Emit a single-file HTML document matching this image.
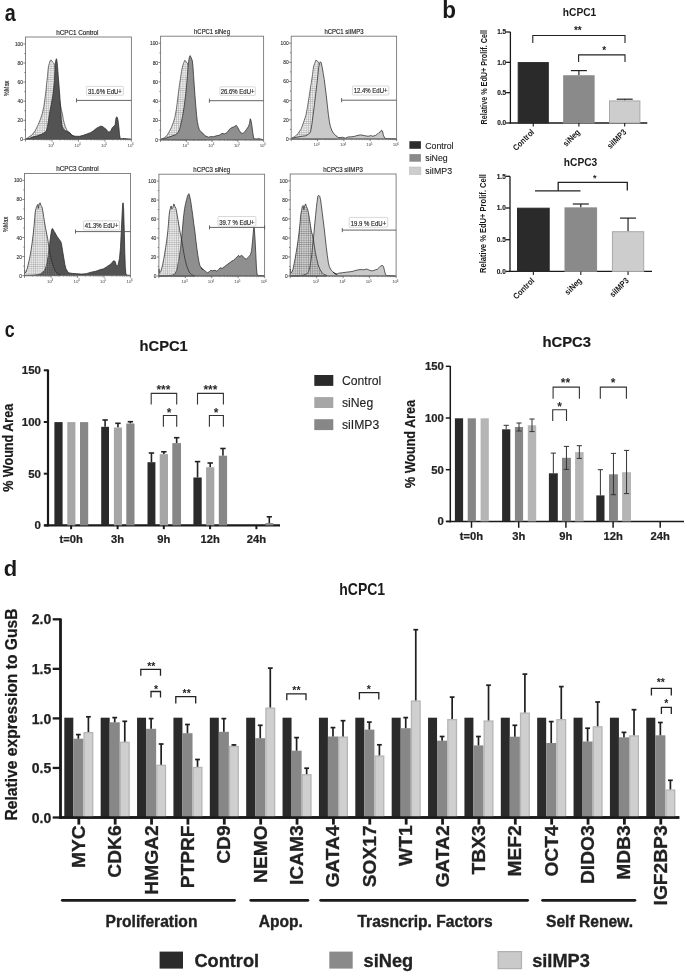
<!DOCTYPE html>
<html><head><meta charset="utf-8"><style>
html,body{margin:0;padding:0;background:#fff;}
body{width:685px;height:976px;overflow:hidden;}
svg{display:block;font-family:"Liberation Sans", sans-serif;filter:blur(0.35px);}
</style></head><body>
<svg width="685" height="976" viewBox="0 0 685 976">
<defs>
<pattern id="stip" width="2.2" height="2.2" patternUnits="userSpaceOnUse"><rect width="2.2" height="2.2" fill="#f0f0f0"/><rect width="0.5" height="2.2" fill="#a8a8a8"/><rect width="2.2" height="0.5" fill="#a8a8a8"/></pattern>
<pattern id="dots" width="2.2" height="2.2" patternUnits="userSpaceOnUse"><rect width="0.5" height="2.2" fill="#888" fill-opacity="0.6"/><rect width="2.2" height="0.5" fill="#888" fill-opacity="0.6"/></pattern>
<pattern id="dots2" width="2.2" height="2.2" patternUnits="userSpaceOnUse"><rect width="0.5" height="2.2" fill="#555" fill-opacity="0.6"/><rect width="2.2" height="0.5" fill="#555" fill-opacity="0.6"/></pattern>
</defs>
<text transform="translate(4.7 21.2) scale(0.86 1)" font-size="23" font-weight="bold" text-anchor="start" fill="#1a1a1a">a</text>
<text transform="translate(442.3 17.7) scale(0.97 1)" font-size="23.2" font-weight="bold" text-anchor="start" fill="#1a1a1a">b</text>
<text transform="translate(4.8 336.9) scale(0.81 1)" font-size="22" font-weight="bold" text-anchor="start" fill="#1a1a1a">c</text>
<text transform="translate(3.8 575.6) scale(0.96 1)" font-size="22.9" font-weight="bold" text-anchor="start" fill="#1a1a1a">d</text>
<path d="M26.23 138.9 L29.09 136.86 L32.15 134.82 L35.22 130.73 L37.77 125.62 L40.33 119.49 L42.37 113.36 L43.9 106.2 L44.93 99.05 L45.95 90.87 L46.66 83.72 L47.48 76.57 L47.99 70.44 L48.5 66.35 L49.32 63.28 L50.34 60.22 L51.36 60.22 L52.39 61.75 L53.41 62.77 L54.63 64.31 L55.66 70.44 L57.7 83.72 L59.74 101.09 L61.28 109.27 L62.3 113.36 L63.32 119.49 L64.34 123.57 L65.36 126.64 L66.39 129.19 L67.92 131.75 L69.96 133.28 L73.03 135.84 L76.09 137.37 L76.09 139.4 L26.23 139.4 Z" fill="url(#stip)" stroke="#3a3a3a" stroke-width="0.7" stroke-linejoin="round"/>
<path d="M26.23 138.9 L29.09 138.39 L33.17 136.86 L37.26 135.84 L41.35 134.3 L44.42 132.77 L46.46 130.73 L47.48 126.64 L48.5 120.51 L49.52 113.36 L51.06 105.18 L52.59 97.01 L53.61 88.83 L54.43 80.66 L54.84 70.44 L55.15 65.33 L55.66 61.24 L56.37 58.69 L56.88 60.22 L57.5 66.35 L58.21 75.55 L59.03 85.77 L59.74 94.96 L60.25 103.14 L60.77 111.31 L61.28 119.49 L61.99 125.62 L63.32 128.68 L65.36 130.73 L67.92 131.75 L69.96 132.77 L71.49 134.82 L73.03 135.84 L72.85 135.8 L75.69 136.28 L79.49 136.28 L83.29 135.33 L87.08 133.91 L90.88 132.48 L93.72 130.59 L96.57 128.21 L98.47 127.26 L100.37 126.32 L102.26 126.32 L104.16 127.74 L106.06 129.16 L107.96 131.53 L108.91 132.2 L110.8 131.06 L112.23 127.74 L113.65 126.32 L115.07 125.37 L116.02 117.77 L116.97 116.83 L117.92 119.67 L118.87 127.26 L119.54 134.86 L120.29 138.65 L122.19 138.65 L124.09 138.46 L126.94 138.84 L131.21 139.13 L131.21 139.4 L26.23 139.4 Z" fill="#535353" stroke="#2a2a2a" stroke-width="0.75" stroke-linejoin="round"/>
<rect x="25.5" y="37" width="105.9" height="102.4" fill="none" stroke="#777" stroke-width="0.9"/>
<line x1="23.3" y1="139.4" x2="25.5" y2="139.4" stroke="#555" stroke-width="0.7" stroke-linecap="butt"/>
<text transform="translate(22.9 141.4)" font-size="4.8" text-anchor="end" fill="#333" stroke="#333" stroke-width="0.12">0</text>
<line x1="24.3" y1="129.85" x2="25.5" y2="129.85" stroke="#555" stroke-width="0.7" stroke-linecap="butt"/>
<line x1="23.3" y1="120.3" x2="25.5" y2="120.3" stroke="#555" stroke-width="0.7" stroke-linecap="butt"/>
<text transform="translate(22.9 122.3)" font-size="4.8" text-anchor="end" fill="#333" stroke="#333" stroke-width="0.12">20</text>
<line x1="24.3" y1="110.75" x2="25.5" y2="110.75" stroke="#555" stroke-width="0.7" stroke-linecap="butt"/>
<line x1="23.3" y1="101.2" x2="25.5" y2="101.2" stroke="#555" stroke-width="0.7" stroke-linecap="butt"/>
<text transform="translate(22.9 103.2)" font-size="4.8" text-anchor="end" fill="#333" stroke="#333" stroke-width="0.12">40</text>
<line x1="24.3" y1="91.65" x2="25.5" y2="91.65" stroke="#555" stroke-width="0.7" stroke-linecap="butt"/>
<line x1="23.3" y1="82.1" x2="25.5" y2="82.1" stroke="#555" stroke-width="0.7" stroke-linecap="butt"/>
<text transform="translate(22.9 84.1)" font-size="4.8" text-anchor="end" fill="#333" stroke="#333" stroke-width="0.12">60</text>
<line x1="24.3" y1="72.55" x2="25.5" y2="72.55" stroke="#555" stroke-width="0.7" stroke-linecap="butt"/>
<line x1="23.3" y1="63.01" x2="25.5" y2="63.01" stroke="#555" stroke-width="0.7" stroke-linecap="butt"/>
<text transform="translate(22.9 65.01)" font-size="4.8" text-anchor="end" fill="#333" stroke="#333" stroke-width="0.12">80</text>
<line x1="24.3" y1="53.46" x2="25.5" y2="53.46" stroke="#555" stroke-width="0.7" stroke-linecap="butt"/>
<line x1="23.3" y1="43.91" x2="25.5" y2="43.91" stroke="#555" stroke-width="0.7" stroke-linecap="butt"/>
<text transform="translate(22.9 45.91)" font-size="4.8" text-anchor="end" fill="#333" stroke="#333" stroke-width="0.12">100</text>
<line x1="25.5" y1="139.4" x2="25.5" y2="141.6" stroke="#555" stroke-width="0.7" stroke-linecap="butt"/>
<line x1="33.47" y1="139.4" x2="33.47" y2="140.6" stroke="#666" stroke-width="0.5" stroke-linecap="butt"/>
<line x1="38.13" y1="139.4" x2="38.13" y2="140.6" stroke="#666" stroke-width="0.5" stroke-linecap="butt"/>
<line x1="41.44" y1="139.4" x2="41.44" y2="140.6" stroke="#666" stroke-width="0.5" stroke-linecap="butt"/>
<line x1="44.01" y1="139.4" x2="44.01" y2="140.6" stroke="#666" stroke-width="0.5" stroke-linecap="butt"/>
<line x1="46.1" y1="139.4" x2="46.1" y2="140.6" stroke="#666" stroke-width="0.5" stroke-linecap="butt"/>
<line x1="47.87" y1="139.4" x2="47.87" y2="140.6" stroke="#666" stroke-width="0.5" stroke-linecap="butt"/>
<line x1="49.41" y1="139.4" x2="49.41" y2="140.6" stroke="#666" stroke-width="0.5" stroke-linecap="butt"/>
<line x1="50.76" y1="139.4" x2="50.76" y2="140.6" stroke="#666" stroke-width="0.5" stroke-linecap="butt"/>
<line x1="51.98" y1="139.4" x2="51.98" y2="141.6" stroke="#555" stroke-width="0.7" stroke-linecap="butt"/>
<text transform="translate(50.48 146.7)" font-size="4.4" text-anchor="middle" fill="#444">10</text>
<text transform="translate(53.38 145)" font-size="3" text-anchor="middle" fill="#444">3</text>
<line x1="59.94" y1="139.4" x2="59.94" y2="140.6" stroke="#666" stroke-width="0.5" stroke-linecap="butt"/>
<line x1="64.61" y1="139.4" x2="64.61" y2="140.6" stroke="#666" stroke-width="0.5" stroke-linecap="butt"/>
<line x1="67.91" y1="139.4" x2="67.91" y2="140.6" stroke="#666" stroke-width="0.5" stroke-linecap="butt"/>
<line x1="70.48" y1="139.4" x2="70.48" y2="140.6" stroke="#666" stroke-width="0.5" stroke-linecap="butt"/>
<line x1="72.58" y1="139.4" x2="72.58" y2="140.6" stroke="#666" stroke-width="0.5" stroke-linecap="butt"/>
<line x1="74.35" y1="139.4" x2="74.35" y2="140.6" stroke="#666" stroke-width="0.5" stroke-linecap="butt"/>
<line x1="75.88" y1="139.4" x2="75.88" y2="140.6" stroke="#666" stroke-width="0.5" stroke-linecap="butt"/>
<line x1="77.24" y1="139.4" x2="77.24" y2="140.6" stroke="#666" stroke-width="0.5" stroke-linecap="butt"/>
<line x1="78.45" y1="139.4" x2="78.45" y2="141.6" stroke="#555" stroke-width="0.7" stroke-linecap="butt"/>
<text transform="translate(76.95 146.7)" font-size="4.4" text-anchor="middle" fill="#444">10</text>
<text transform="translate(79.85 145)" font-size="3" text-anchor="middle" fill="#444">4</text>
<line x1="86.42" y1="139.4" x2="86.42" y2="140.6" stroke="#666" stroke-width="0.5" stroke-linecap="butt"/>
<line x1="91.08" y1="139.4" x2="91.08" y2="140.6" stroke="#666" stroke-width="0.5" stroke-linecap="butt"/>
<line x1="94.39" y1="139.4" x2="94.39" y2="140.6" stroke="#666" stroke-width="0.5" stroke-linecap="butt"/>
<line x1="96.96" y1="139.4" x2="96.96" y2="140.6" stroke="#666" stroke-width="0.5" stroke-linecap="butt"/>
<line x1="99.05" y1="139.4" x2="99.05" y2="140.6" stroke="#666" stroke-width="0.5" stroke-linecap="butt"/>
<line x1="100.82" y1="139.4" x2="100.82" y2="140.6" stroke="#666" stroke-width="0.5" stroke-linecap="butt"/>
<line x1="102.36" y1="139.4" x2="102.36" y2="140.6" stroke="#666" stroke-width="0.5" stroke-linecap="butt"/>
<line x1="103.71" y1="139.4" x2="103.71" y2="140.6" stroke="#666" stroke-width="0.5" stroke-linecap="butt"/>
<line x1="104.93" y1="139.4" x2="104.93" y2="141.6" stroke="#555" stroke-width="0.7" stroke-linecap="butt"/>
<text transform="translate(103.43 146.7)" font-size="4.4" text-anchor="middle" fill="#444">10</text>
<text transform="translate(106.33 145)" font-size="3" text-anchor="middle" fill="#444">5</text>
<line x1="112.89" y1="139.4" x2="112.89" y2="140.6" stroke="#666" stroke-width="0.5" stroke-linecap="butt"/>
<line x1="117.56" y1="139.4" x2="117.56" y2="140.6" stroke="#666" stroke-width="0.5" stroke-linecap="butt"/>
<line x1="120.86" y1="139.4" x2="120.86" y2="140.6" stroke="#666" stroke-width="0.5" stroke-linecap="butt"/>
<line x1="123.43" y1="139.4" x2="123.43" y2="140.6" stroke="#666" stroke-width="0.5" stroke-linecap="butt"/>
<line x1="125.53" y1="139.4" x2="125.53" y2="140.6" stroke="#666" stroke-width="0.5" stroke-linecap="butt"/>
<line x1="127.3" y1="139.4" x2="127.3" y2="140.6" stroke="#666" stroke-width="0.5" stroke-linecap="butt"/>
<line x1="128.83" y1="139.4" x2="128.83" y2="140.6" stroke="#666" stroke-width="0.5" stroke-linecap="butt"/>
<line x1="130.19" y1="139.4" x2="130.19" y2="140.6" stroke="#666" stroke-width="0.5" stroke-linecap="butt"/>
<line x1="131.4" y1="139.4" x2="131.4" y2="141.6" stroke="#555" stroke-width="0.7" stroke-linecap="butt"/>
<text transform="translate(129.9 146.7)" font-size="4.4" text-anchor="middle" fill="#444">10</text>
<text transform="translate(132.8 145)" font-size="3" text-anchor="middle" fill="#444">6</text>
<text transform="translate(77.3 34.7)" font-size="6.3" text-anchor="middle" fill="#222" stroke="#222" stroke-width="0.15">hCPC1 Control</text>
<line x1="76.5" y1="100.4" x2="131.4" y2="100.4" stroke="#555" stroke-width="0.9" stroke-linecap="butt"/>
<line x1="76.5" y1="98.4" x2="76.5" y2="102.4" stroke="#555" stroke-width="0.9" stroke-linecap="butt"/>
<rect x="86.4" y="86.4" width="37" height="8.8" rx="0.8" fill="#fff" stroke="#c8c8c8" stroke-width="0.7"/>
<text transform="translate(104.9 93.5) scale(0.79 1)" font-size="7.6" text-anchor="middle" fill="#2a2a2a" stroke="#2a2a2a" stroke-width="0.18">31.6% EdU+</text>
<path d="M160.55 139.41 L164.13 137.88 L167.2 135.33 L169.24 131.75 L171.28 127.66 L173.33 122.55 L174.86 117.44 L176.39 109.27 L177.42 101.09 L178.44 92.92 L179.46 84.74 L180.48 78.61 L181.5 71.46 L182.52 66.35 L183.55 63.28 L184.77 60.22 L185.79 61.24 L186.61 62.77 L187.63 63.28 L188.66 66.35 L190.7 80.66 L192.74 101.09 L194.79 115.4 L196.83 125.62 L198.87 131.75 L201.94 135.84 L206.03 138.39 L206.03 139.8 L160.55 139.8 Z" fill="url(#stip)" stroke="#3a3a3a" stroke-width="0.7" stroke-linejoin="round"/>
<path d="M160.55 139.41 L164.13 138.7 L168.22 137.37 L172.31 135.84 L175.37 134.82 L177.93 132.77 L179.46 129.71 L180.99 123.57 L182.52 116.42 L184.06 107.22 L185.08 99.05 L186.1 90.87 L186.82 82.7 L187.43 75.55 L188.15 65.33 L188.66 61.24 L189.37 57.15 L190.19 55.62 L190.9 57.15 L192.23 60.22 L192.95 66.35 L193.56 75.55 L194.28 85.77 L194.99 95.98 L195.81 106.2 L196.63 115.4 L197.34 121.53 L198.36 126.64 L199.39 129.71 L200.92 131.75 L202.96 133.28 L205.01 135.84 L208.69 137.23 L210.59 136.56 L213.44 136.75 L216.29 135.8 L219.13 135.33 L221.98 133.43 L224.83 133.91 L227.67 132.01 L229.57 129.16 L231.47 127.74 L233.37 127.07 L234.79 126.32 L236.21 125.37 L237.64 127.26 L239.06 130.11 L240.96 132.96 L242.86 133.43 L244.75 132.01 L246.65 129.16 L248.55 126.32 L249.5 123.47 L250.26 118.72 L250.92 120.15 L251.87 125.37 L252.82 132.96 L253.77 138.65 L256.14 138.94 L258.99 138.65 L260.89 139.13 L262.97 139.6 L262.97 139.8 L160.55 139.8 Z" fill="#8f8f8f" stroke="#2a2a2a" stroke-width="0.75" stroke-linejoin="round"/>
<rect x="160.6" y="36.2" width="103" height="103.6" fill="none" stroke="#777" stroke-width="0.9"/>
<line x1="158.4" y1="139.8" x2="160.6" y2="139.8" stroke="#555" stroke-width="0.7" stroke-linecap="butt"/>
<text transform="translate(158 141.8)" font-size="4.8" text-anchor="end" fill="#333" stroke="#333" stroke-width="0.12">0</text>
<line x1="159.4" y1="130.14" x2="160.6" y2="130.14" stroke="#555" stroke-width="0.7" stroke-linecap="butt"/>
<line x1="158.4" y1="120.48" x2="160.6" y2="120.48" stroke="#555" stroke-width="0.7" stroke-linecap="butt"/>
<text transform="translate(158 122.48)" font-size="4.8" text-anchor="end" fill="#333" stroke="#333" stroke-width="0.12">20</text>
<line x1="159.4" y1="110.82" x2="160.6" y2="110.82" stroke="#555" stroke-width="0.7" stroke-linecap="butt"/>
<line x1="158.4" y1="101.16" x2="160.6" y2="101.16" stroke="#555" stroke-width="0.7" stroke-linecap="butt"/>
<text transform="translate(158 103.16)" font-size="4.8" text-anchor="end" fill="#333" stroke="#333" stroke-width="0.12">40</text>
<line x1="159.4" y1="91.49" x2="160.6" y2="91.49" stroke="#555" stroke-width="0.7" stroke-linecap="butt"/>
<line x1="158.4" y1="81.83" x2="160.6" y2="81.83" stroke="#555" stroke-width="0.7" stroke-linecap="butt"/>
<text transform="translate(158 83.83)" font-size="4.8" text-anchor="end" fill="#333" stroke="#333" stroke-width="0.12">60</text>
<line x1="159.4" y1="72.17" x2="160.6" y2="72.17" stroke="#555" stroke-width="0.7" stroke-linecap="butt"/>
<line x1="158.4" y1="62.51" x2="160.6" y2="62.51" stroke="#555" stroke-width="0.7" stroke-linecap="butt"/>
<text transform="translate(158 64.51)" font-size="4.8" text-anchor="end" fill="#333" stroke="#333" stroke-width="0.12">80</text>
<line x1="159.4" y1="52.85" x2="160.6" y2="52.85" stroke="#555" stroke-width="0.7" stroke-linecap="butt"/>
<line x1="158.4" y1="43.19" x2="160.6" y2="43.19" stroke="#555" stroke-width="0.7" stroke-linecap="butt"/>
<text transform="translate(158 45.19)" font-size="4.8" text-anchor="end" fill="#333" stroke="#333" stroke-width="0.12">100</text>
<line x1="160.6" y1="139.8" x2="160.6" y2="142" stroke="#555" stroke-width="0.7" stroke-linecap="butt"/>
<line x1="168.35" y1="139.8" x2="168.35" y2="141" stroke="#666" stroke-width="0.5" stroke-linecap="butt"/>
<line x1="172.89" y1="139.8" x2="172.89" y2="141" stroke="#666" stroke-width="0.5" stroke-linecap="butt"/>
<line x1="176.1" y1="139.8" x2="176.1" y2="141" stroke="#666" stroke-width="0.5" stroke-linecap="butt"/>
<line x1="178.6" y1="139.8" x2="178.6" y2="141" stroke="#666" stroke-width="0.5" stroke-linecap="butt"/>
<line x1="180.64" y1="139.8" x2="180.64" y2="141" stroke="#666" stroke-width="0.5" stroke-linecap="butt"/>
<line x1="182.36" y1="139.8" x2="182.36" y2="141" stroke="#666" stroke-width="0.5" stroke-linecap="butt"/>
<line x1="183.85" y1="139.8" x2="183.85" y2="141" stroke="#666" stroke-width="0.5" stroke-linecap="butt"/>
<line x1="185.17" y1="139.8" x2="185.17" y2="141" stroke="#666" stroke-width="0.5" stroke-linecap="butt"/>
<line x1="186.35" y1="139.8" x2="186.35" y2="142" stroke="#555" stroke-width="0.7" stroke-linecap="butt"/>
<text transform="translate(184.85 147.1)" font-size="4.4" text-anchor="middle" fill="#444">10</text>
<text transform="translate(187.75 145.4)" font-size="3" text-anchor="middle" fill="#444">3</text>
<line x1="194.1" y1="139.8" x2="194.1" y2="141" stroke="#666" stroke-width="0.5" stroke-linecap="butt"/>
<line x1="198.64" y1="139.8" x2="198.64" y2="141" stroke="#666" stroke-width="0.5" stroke-linecap="butt"/>
<line x1="201.85" y1="139.8" x2="201.85" y2="141" stroke="#666" stroke-width="0.5" stroke-linecap="butt"/>
<line x1="204.35" y1="139.8" x2="204.35" y2="141" stroke="#666" stroke-width="0.5" stroke-linecap="butt"/>
<line x1="206.39" y1="139.8" x2="206.39" y2="141" stroke="#666" stroke-width="0.5" stroke-linecap="butt"/>
<line x1="208.11" y1="139.8" x2="208.11" y2="141" stroke="#666" stroke-width="0.5" stroke-linecap="butt"/>
<line x1="209.6" y1="139.8" x2="209.6" y2="141" stroke="#666" stroke-width="0.5" stroke-linecap="butt"/>
<line x1="210.92" y1="139.8" x2="210.92" y2="141" stroke="#666" stroke-width="0.5" stroke-linecap="butt"/>
<line x1="212.1" y1="139.8" x2="212.1" y2="142" stroke="#555" stroke-width="0.7" stroke-linecap="butt"/>
<text transform="translate(210.6 147.1)" font-size="4.4" text-anchor="middle" fill="#444">10</text>
<text transform="translate(213.5 145.4)" font-size="3" text-anchor="middle" fill="#444">4</text>
<line x1="219.85" y1="139.8" x2="219.85" y2="141" stroke="#666" stroke-width="0.5" stroke-linecap="butt"/>
<line x1="224.39" y1="139.8" x2="224.39" y2="141" stroke="#666" stroke-width="0.5" stroke-linecap="butt"/>
<line x1="227.6" y1="139.8" x2="227.6" y2="141" stroke="#666" stroke-width="0.5" stroke-linecap="butt"/>
<line x1="230.1" y1="139.8" x2="230.1" y2="141" stroke="#666" stroke-width="0.5" stroke-linecap="butt"/>
<line x1="232.14" y1="139.8" x2="232.14" y2="141" stroke="#666" stroke-width="0.5" stroke-linecap="butt"/>
<line x1="233.86" y1="139.8" x2="233.86" y2="141" stroke="#666" stroke-width="0.5" stroke-linecap="butt"/>
<line x1="235.35" y1="139.8" x2="235.35" y2="141" stroke="#666" stroke-width="0.5" stroke-linecap="butt"/>
<line x1="236.67" y1="139.8" x2="236.67" y2="141" stroke="#666" stroke-width="0.5" stroke-linecap="butt"/>
<line x1="237.85" y1="139.8" x2="237.85" y2="142" stroke="#555" stroke-width="0.7" stroke-linecap="butt"/>
<text transform="translate(236.35 147.1)" font-size="4.4" text-anchor="middle" fill="#444">10</text>
<text transform="translate(239.25 145.4)" font-size="3" text-anchor="middle" fill="#444">5</text>
<line x1="245.6" y1="139.8" x2="245.6" y2="141" stroke="#666" stroke-width="0.5" stroke-linecap="butt"/>
<line x1="250.14" y1="139.8" x2="250.14" y2="141" stroke="#666" stroke-width="0.5" stroke-linecap="butt"/>
<line x1="253.35" y1="139.8" x2="253.35" y2="141" stroke="#666" stroke-width="0.5" stroke-linecap="butt"/>
<line x1="255.85" y1="139.8" x2="255.85" y2="141" stroke="#666" stroke-width="0.5" stroke-linecap="butt"/>
<line x1="257.89" y1="139.8" x2="257.89" y2="141" stroke="#666" stroke-width="0.5" stroke-linecap="butt"/>
<line x1="259.61" y1="139.8" x2="259.61" y2="141" stroke="#666" stroke-width="0.5" stroke-linecap="butt"/>
<line x1="261.1" y1="139.8" x2="261.1" y2="141" stroke="#666" stroke-width="0.5" stroke-linecap="butt"/>
<line x1="262.42" y1="139.8" x2="262.42" y2="141" stroke="#666" stroke-width="0.5" stroke-linecap="butt"/>
<line x1="263.6" y1="139.8" x2="263.6" y2="142" stroke="#555" stroke-width="0.7" stroke-linecap="butt"/>
<text transform="translate(262.1 147.1)" font-size="4.4" text-anchor="middle" fill="#444">10</text>
<text transform="translate(265 145.4)" font-size="3" text-anchor="middle" fill="#444">6</text>
<text transform="translate(212 33.9) scale(0.94 1)" font-size="6.3" text-anchor="middle" fill="#222" stroke="#222" stroke-width="0.15">hCPC1 siNeg</text>
<line x1="209.4" y1="100.7" x2="263.6" y2="100.7" stroke="#555" stroke-width="0.9" stroke-linecap="butt"/>
<line x1="209.4" y1="98.7" x2="209.4" y2="102.7" stroke="#555" stroke-width="0.9" stroke-linecap="butt"/>
<rect x="219.9" y="86.8" width="35.4" height="8.6" rx="0.8" fill="#fff" stroke="#c8c8c8" stroke-width="0.7"/>
<text transform="translate(237.6 93.7) scale(0.79 1)" font-size="7.6" text-anchor="middle" fill="#2a2a2a" stroke="#2a2a2a" stroke-width="0.18">26.6% EdU+</text>
<path d="M291.37 138.39 L295.15 136.35 L298.22 133.28 L301.28 128.68 L303.84 121.53 L305.88 115.4 L307.42 107.22 L308.95 98.03 L309.97 90.87 L311.3 82.7 L312.52 74.52 L313.55 66.35 L314.77 63.28 L315.79 60.22 L317.12 60.73 L318.45 62.26 L319.68 65.33 L321.72 76.57 L323.77 90.87 L325.81 107.22 L327.85 119.49 L329.9 127.66 L332.96 133.79 L337.05 136.86 L337.05 139 L291.37 139 Z" fill="url(#stip)" stroke="#3a3a3a" stroke-width="0.7" stroke-linejoin="round"/>
<path d="M291.37 138.39 L296.17 137.37 L301.28 136.35 L305.37 135.84 L308.44 134.3 L309.97 132.77 L310.99 129.71 L312.01 123.57 L313.04 115.4 L314.36 105.18 L315.59 94.96 L316.82 84.74 L317.84 75.55 L318.66 67.37 L319.47 63.28 L320.5 61.75 L321.21 62.77 L322.23 67.37 L323.25 73.5 L324.28 79.63 L325.3 87.81 L326.32 95.98 L327.34 105.18 L328.36 114.38 L329.39 121.53 L330.41 126.64 L331.94 130.73 L333.98 133.79 L336.03 135.84 L338.07 137.37 L340.12 137.88 L339.64 137.7 L342.49 137.23 L345.34 138.18 L348.18 136.94 L351.98 136.75 L354.83 136.28 L356.72 135.61 L360.52 134.86 L364.32 135.61 L368.11 136.28 L370.96 135.61 L372.86 136.28 L375.7 135.33 L377.6 133.91 L379.02 132.48 L380.45 132.01 L381.59 130.11 L382.54 131.06 L383.29 134.86 L384.72 138.18 L387.09 138.65 L391.83 138.84 L396.39 139.13 L396.39 139 L291.37 139 Z" fill="#c9c9c9" stroke="#2a2a2a" stroke-width="0.75" stroke-linejoin="round"/>
<rect x="291.2" y="36.2" width="105.4" height="102.8" fill="none" stroke="#777" stroke-width="0.9"/>
<line x1="289" y1="139" x2="291.2" y2="139" stroke="#555" stroke-width="0.7" stroke-linecap="butt"/>
<text transform="translate(288.6 141)" font-size="4.8" text-anchor="end" fill="#333" stroke="#333" stroke-width="0.12">0</text>
<line x1="290" y1="129.41" x2="291.2" y2="129.41" stroke="#555" stroke-width="0.7" stroke-linecap="butt"/>
<line x1="289" y1="119.83" x2="291.2" y2="119.83" stroke="#555" stroke-width="0.7" stroke-linecap="butt"/>
<text transform="translate(288.6 121.83)" font-size="4.8" text-anchor="end" fill="#333" stroke="#333" stroke-width="0.12">20</text>
<line x1="290" y1="110.24" x2="291.2" y2="110.24" stroke="#555" stroke-width="0.7" stroke-linecap="butt"/>
<line x1="289" y1="100.65" x2="291.2" y2="100.65" stroke="#555" stroke-width="0.7" stroke-linecap="butt"/>
<text transform="translate(288.6 102.65)" font-size="4.8" text-anchor="end" fill="#333" stroke="#333" stroke-width="0.12">40</text>
<line x1="290" y1="91.07" x2="291.2" y2="91.07" stroke="#555" stroke-width="0.7" stroke-linecap="butt"/>
<line x1="289" y1="81.48" x2="291.2" y2="81.48" stroke="#555" stroke-width="0.7" stroke-linecap="butt"/>
<text transform="translate(288.6 83.48)" font-size="4.8" text-anchor="end" fill="#333" stroke="#333" stroke-width="0.12">60</text>
<line x1="290" y1="71.89" x2="291.2" y2="71.89" stroke="#555" stroke-width="0.7" stroke-linecap="butt"/>
<line x1="289" y1="62.31" x2="291.2" y2="62.31" stroke="#555" stroke-width="0.7" stroke-linecap="butt"/>
<text transform="translate(288.6 64.31)" font-size="4.8" text-anchor="end" fill="#333" stroke="#333" stroke-width="0.12">80</text>
<line x1="290" y1="52.72" x2="291.2" y2="52.72" stroke="#555" stroke-width="0.7" stroke-linecap="butt"/>
<line x1="289" y1="43.13" x2="291.2" y2="43.13" stroke="#555" stroke-width="0.7" stroke-linecap="butt"/>
<text transform="translate(288.6 45.13)" font-size="4.8" text-anchor="end" fill="#333" stroke="#333" stroke-width="0.12">100</text>
<line x1="291.2" y1="139" x2="291.2" y2="141.2" stroke="#555" stroke-width="0.7" stroke-linecap="butt"/>
<line x1="299.13" y1="139" x2="299.13" y2="140.2" stroke="#666" stroke-width="0.5" stroke-linecap="butt"/>
<line x1="303.77" y1="139" x2="303.77" y2="140.2" stroke="#666" stroke-width="0.5" stroke-linecap="butt"/>
<line x1="307.06" y1="139" x2="307.06" y2="140.2" stroke="#666" stroke-width="0.5" stroke-linecap="butt"/>
<line x1="309.62" y1="139" x2="309.62" y2="140.2" stroke="#666" stroke-width="0.5" stroke-linecap="butt"/>
<line x1="311.7" y1="139" x2="311.7" y2="140.2" stroke="#666" stroke-width="0.5" stroke-linecap="butt"/>
<line x1="313.47" y1="139" x2="313.47" y2="140.2" stroke="#666" stroke-width="0.5" stroke-linecap="butt"/>
<line x1="315" y1="139" x2="315" y2="140.2" stroke="#666" stroke-width="0.5" stroke-linecap="butt"/>
<line x1="316.34" y1="139" x2="316.34" y2="140.2" stroke="#666" stroke-width="0.5" stroke-linecap="butt"/>
<line x1="317.55" y1="139" x2="317.55" y2="141.2" stroke="#555" stroke-width="0.7" stroke-linecap="butt"/>
<text transform="translate(316.05 146.3)" font-size="4.4" text-anchor="middle" fill="#444">10</text>
<text transform="translate(318.95 144.6)" font-size="3" text-anchor="middle" fill="#444">3</text>
<line x1="325.48" y1="139" x2="325.48" y2="140.2" stroke="#666" stroke-width="0.5" stroke-linecap="butt"/>
<line x1="330.12" y1="139" x2="330.12" y2="140.2" stroke="#666" stroke-width="0.5" stroke-linecap="butt"/>
<line x1="333.41" y1="139" x2="333.41" y2="140.2" stroke="#666" stroke-width="0.5" stroke-linecap="butt"/>
<line x1="335.97" y1="139" x2="335.97" y2="140.2" stroke="#666" stroke-width="0.5" stroke-linecap="butt"/>
<line x1="338.05" y1="139" x2="338.05" y2="140.2" stroke="#666" stroke-width="0.5" stroke-linecap="butt"/>
<line x1="339.82" y1="139" x2="339.82" y2="140.2" stroke="#666" stroke-width="0.5" stroke-linecap="butt"/>
<line x1="341.35" y1="139" x2="341.35" y2="140.2" stroke="#666" stroke-width="0.5" stroke-linecap="butt"/>
<line x1="342.69" y1="139" x2="342.69" y2="140.2" stroke="#666" stroke-width="0.5" stroke-linecap="butt"/>
<line x1="343.9" y1="139" x2="343.9" y2="141.2" stroke="#555" stroke-width="0.7" stroke-linecap="butt"/>
<text transform="translate(342.4 146.3)" font-size="4.4" text-anchor="middle" fill="#444">10</text>
<text transform="translate(345.3 144.6)" font-size="3" text-anchor="middle" fill="#444">4</text>
<line x1="351.83" y1="139" x2="351.83" y2="140.2" stroke="#666" stroke-width="0.5" stroke-linecap="butt"/>
<line x1="356.47" y1="139" x2="356.47" y2="140.2" stroke="#666" stroke-width="0.5" stroke-linecap="butt"/>
<line x1="359.76" y1="139" x2="359.76" y2="140.2" stroke="#666" stroke-width="0.5" stroke-linecap="butt"/>
<line x1="362.32" y1="139" x2="362.32" y2="140.2" stroke="#666" stroke-width="0.5" stroke-linecap="butt"/>
<line x1="364.4" y1="139" x2="364.4" y2="140.2" stroke="#666" stroke-width="0.5" stroke-linecap="butt"/>
<line x1="366.17" y1="139" x2="366.17" y2="140.2" stroke="#666" stroke-width="0.5" stroke-linecap="butt"/>
<line x1="367.7" y1="139" x2="367.7" y2="140.2" stroke="#666" stroke-width="0.5" stroke-linecap="butt"/>
<line x1="369.04" y1="139" x2="369.04" y2="140.2" stroke="#666" stroke-width="0.5" stroke-linecap="butt"/>
<line x1="370.25" y1="139" x2="370.25" y2="141.2" stroke="#555" stroke-width="0.7" stroke-linecap="butt"/>
<text transform="translate(368.75 146.3)" font-size="4.4" text-anchor="middle" fill="#444">10</text>
<text transform="translate(371.65 144.6)" font-size="3" text-anchor="middle" fill="#444">5</text>
<line x1="378.18" y1="139" x2="378.18" y2="140.2" stroke="#666" stroke-width="0.5" stroke-linecap="butt"/>
<line x1="382.82" y1="139" x2="382.82" y2="140.2" stroke="#666" stroke-width="0.5" stroke-linecap="butt"/>
<line x1="386.11" y1="139" x2="386.11" y2="140.2" stroke="#666" stroke-width="0.5" stroke-linecap="butt"/>
<line x1="388.67" y1="139" x2="388.67" y2="140.2" stroke="#666" stroke-width="0.5" stroke-linecap="butt"/>
<line x1="390.75" y1="139" x2="390.75" y2="140.2" stroke="#666" stroke-width="0.5" stroke-linecap="butt"/>
<line x1="392.52" y1="139" x2="392.52" y2="140.2" stroke="#666" stroke-width="0.5" stroke-linecap="butt"/>
<line x1="394.05" y1="139" x2="394.05" y2="140.2" stroke="#666" stroke-width="0.5" stroke-linecap="butt"/>
<line x1="395.39" y1="139" x2="395.39" y2="140.2" stroke="#666" stroke-width="0.5" stroke-linecap="butt"/>
<line x1="396.6" y1="139" x2="396.6" y2="141.2" stroke="#555" stroke-width="0.7" stroke-linecap="butt"/>
<text transform="translate(395.1 146.3)" font-size="4.4" text-anchor="middle" fill="#444">10</text>
<text transform="translate(398 144.6)" font-size="3" text-anchor="middle" fill="#444">6</text>
<text transform="translate(344 33.9) scale(0.95 1)" font-size="6.3" text-anchor="middle" fill="#222" stroke="#222" stroke-width="0.15">hCPC1 siIMP3</text>
<line x1="341.6" y1="100.2" x2="396.6" y2="100.2" stroke="#555" stroke-width="0.9" stroke-linecap="butt"/>
<line x1="341.6" y1="98.2" x2="341.6" y2="102.2" stroke="#555" stroke-width="0.9" stroke-linecap="butt"/>
<rect x="352.4" y="86" width="36.4" height="9" rx="0.8" fill="#fff" stroke="#c8c8c8" stroke-width="0.7"/>
<text transform="translate(370.6 93.3) scale(0.79 1)" font-size="7.6" text-anchor="middle" fill="#2a2a2a" stroke="#2a2a2a" stroke-width="0.18">12.4% EdU+</text>
<path d="M24.55 269.82 L25.07 272.88 L26.09 271.86 L27.11 268.79 L28.13 264.71 L29.15 260.62 L30.17 255.51 L31.2 249.38 L32.22 242.22 L33.24 234.05 L34.06 225.87 L34.77 217.7 L35.28 211.57 L36.31 207.48 L37.12 205.44 L37.84 204.42 L38.35 208.5 L39.37 203.39 L40.19 202.88 L40.9 205.44 L41.93 206.97 L42.95 211.57 L43.66 216.68 L44.48 221.79 L45.5 227.92 L46.52 233.03 L47.55 238.14 L48.36 243.25 L49.39 250.4 L50.61 256.53 L51.63 260.62 L52.66 264.71 L53.88 267.77 L55.21 270.84 L56.74 272.88 L58.79 274.41 L60.83 275.13 L60.83 275.6 L24.55 275.6 Z" fill="#ebebeb" stroke="none" stroke-width="1" stroke-linejoin="round"/>
<path d="M24.55 275.44 L32.22 275.13 L37.33 274.72 L40.39 273.9 L42.44 272.37 L44.48 270.33 L46.01 266.75 L47.04 262.66 L48.06 256.53 L48.77 250.4 L49.59 244.27 L50.61 236.09 L51.63 229.96 L52.35 228.43 L53.17 229.45 L54.19 231.49 L55.21 233.03 L56.74 236.09 L58.28 238.14 L59.81 240.18 L60.83 241.71 L61.34 243.25 L62.06 247.33 L62.87 252.44 L63.9 258.57 L64.92 264.71 L65.94 268.79 L67.47 271.35 L69.01 272.88 L72.07 273.39 L71.82 273.45 L76.63 273.64 L81.45 274.12 L86.27 273.64 L91.09 272.2 L95.9 271.23 L99.76 269.79 L103.61 268.82 L106.5 266.9 L109.39 264.97 L111.32 263.52 L113.25 261.12 L114.21 260.63 L115.17 261.6 L116.14 264.97 L117.1 266.41 L118.06 264.97 L119.51 258.22 L120.47 247.63 L121.44 228.36 L122.11 213.9 L122.69 203.31 L123.17 202.82 L123.65 209.09 L124.33 233.17 L124.81 252.44 L125.29 266.9 L125.97 274.6 L127.22 275.09 L130.11 275.37 L130.11 275.6 L24.55 275.6 Z" fill="#535353" stroke="#2a2a2a" stroke-width="0.75" stroke-linejoin="round"/>
<path d="M24.55 269.82 L25.07 272.88 L26.09 271.86 L27.11 268.79 L28.13 264.71 L29.15 260.62 L30.17 255.51 L31.2 249.38 L32.22 242.22 L33.24 234.05 L34.06 225.87 L34.77 217.7 L35.28 211.57 L36.31 207.48 L37.12 205.44 L37.84 204.42 L38.35 208.5 L39.37 203.39 L40.19 202.88 L40.9 205.44 L41.93 206.97 L42.95 211.57 L43.66 216.68 L44.48 221.79 L45.5 227.92 L46.52 233.03 L47.55 238.14 L48.36 243.25 L49.39 250.4 L50.61 256.53 L51.63 260.62 L52.66 264.71 L53.88 267.77 L55.21 270.84 L56.74 272.88 L58.79 274.41 L60.83 275.13 L60.83 275.6 L24.55 275.6 Z" fill="url(#dots)" stroke="#2a2a2a" stroke-width="0.75" stroke-linejoin="round"/>
<rect x="24.5" y="173.5" width="106" height="102.1" fill="none" stroke="#777" stroke-width="0.9"/>
<line x1="22.3" y1="275.6" x2="24.5" y2="275.6" stroke="#555" stroke-width="0.7" stroke-linecap="butt"/>
<text transform="translate(21.9 277.6)" font-size="4.8" text-anchor="end" fill="#333" stroke="#333" stroke-width="0.12">0</text>
<line x1="23.3" y1="266.08" x2="24.5" y2="266.08" stroke="#555" stroke-width="0.7" stroke-linecap="butt"/>
<line x1="22.3" y1="256.56" x2="24.5" y2="256.56" stroke="#555" stroke-width="0.7" stroke-linecap="butt"/>
<text transform="translate(21.9 258.56)" font-size="4.8" text-anchor="end" fill="#333" stroke="#333" stroke-width="0.12">20</text>
<line x1="23.3" y1="247.04" x2="24.5" y2="247.04" stroke="#555" stroke-width="0.7" stroke-linecap="butt"/>
<line x1="22.3" y1="237.51" x2="24.5" y2="237.51" stroke="#555" stroke-width="0.7" stroke-linecap="butt"/>
<text transform="translate(21.9 239.51)" font-size="4.8" text-anchor="end" fill="#333" stroke="#333" stroke-width="0.12">40</text>
<line x1="23.3" y1="227.99" x2="24.5" y2="227.99" stroke="#555" stroke-width="0.7" stroke-linecap="butt"/>
<line x1="22.3" y1="218.47" x2="24.5" y2="218.47" stroke="#555" stroke-width="0.7" stroke-linecap="butt"/>
<text transform="translate(21.9 220.47)" font-size="4.8" text-anchor="end" fill="#333" stroke="#333" stroke-width="0.12">60</text>
<line x1="23.3" y1="208.95" x2="24.5" y2="208.95" stroke="#555" stroke-width="0.7" stroke-linecap="butt"/>
<line x1="22.3" y1="199.43" x2="24.5" y2="199.43" stroke="#555" stroke-width="0.7" stroke-linecap="butt"/>
<text transform="translate(21.9 201.43)" font-size="4.8" text-anchor="end" fill="#333" stroke="#333" stroke-width="0.12">80</text>
<line x1="23.3" y1="189.91" x2="24.5" y2="189.91" stroke="#555" stroke-width="0.7" stroke-linecap="butt"/>
<line x1="22.3" y1="180.39" x2="24.5" y2="180.39" stroke="#555" stroke-width="0.7" stroke-linecap="butt"/>
<text transform="translate(21.9 182.39)" font-size="4.8" text-anchor="end" fill="#333" stroke="#333" stroke-width="0.12">100</text>
<line x1="24.5" y1="275.6" x2="24.5" y2="277.8" stroke="#555" stroke-width="0.7" stroke-linecap="butt"/>
<line x1="32.48" y1="275.6" x2="32.48" y2="276.8" stroke="#666" stroke-width="0.5" stroke-linecap="butt"/>
<line x1="37.14" y1="275.6" x2="37.14" y2="276.8" stroke="#666" stroke-width="0.5" stroke-linecap="butt"/>
<line x1="40.45" y1="275.6" x2="40.45" y2="276.8" stroke="#666" stroke-width="0.5" stroke-linecap="butt"/>
<line x1="43.02" y1="275.6" x2="43.02" y2="276.8" stroke="#666" stroke-width="0.5" stroke-linecap="butt"/>
<line x1="45.12" y1="275.6" x2="45.12" y2="276.8" stroke="#666" stroke-width="0.5" stroke-linecap="butt"/>
<line x1="46.9" y1="275.6" x2="46.9" y2="276.8" stroke="#666" stroke-width="0.5" stroke-linecap="butt"/>
<line x1="48.43" y1="275.6" x2="48.43" y2="276.8" stroke="#666" stroke-width="0.5" stroke-linecap="butt"/>
<line x1="49.79" y1="275.6" x2="49.79" y2="276.8" stroke="#666" stroke-width="0.5" stroke-linecap="butt"/>
<line x1="51" y1="275.6" x2="51" y2="277.8" stroke="#555" stroke-width="0.7" stroke-linecap="butt"/>
<text transform="translate(49.5 282.9)" font-size="4.4" text-anchor="middle" fill="#444">10</text>
<text transform="translate(52.4 281.2)" font-size="3" text-anchor="middle" fill="#444">3</text>
<line x1="58.98" y1="275.6" x2="58.98" y2="276.8" stroke="#666" stroke-width="0.5" stroke-linecap="butt"/>
<line x1="63.64" y1="275.6" x2="63.64" y2="276.8" stroke="#666" stroke-width="0.5" stroke-linecap="butt"/>
<line x1="66.95" y1="275.6" x2="66.95" y2="276.8" stroke="#666" stroke-width="0.5" stroke-linecap="butt"/>
<line x1="69.52" y1="275.6" x2="69.52" y2="276.8" stroke="#666" stroke-width="0.5" stroke-linecap="butt"/>
<line x1="71.62" y1="275.6" x2="71.62" y2="276.8" stroke="#666" stroke-width="0.5" stroke-linecap="butt"/>
<line x1="73.4" y1="275.6" x2="73.4" y2="276.8" stroke="#666" stroke-width="0.5" stroke-linecap="butt"/>
<line x1="74.93" y1="275.6" x2="74.93" y2="276.8" stroke="#666" stroke-width="0.5" stroke-linecap="butt"/>
<line x1="76.29" y1="275.6" x2="76.29" y2="276.8" stroke="#666" stroke-width="0.5" stroke-linecap="butt"/>
<line x1="77.5" y1="275.6" x2="77.5" y2="277.8" stroke="#555" stroke-width="0.7" stroke-linecap="butt"/>
<text transform="translate(76 282.9)" font-size="4.4" text-anchor="middle" fill="#444">10</text>
<text transform="translate(78.9 281.2)" font-size="3" text-anchor="middle" fill="#444">4</text>
<line x1="85.48" y1="275.6" x2="85.48" y2="276.8" stroke="#666" stroke-width="0.5" stroke-linecap="butt"/>
<line x1="90.14" y1="275.6" x2="90.14" y2="276.8" stroke="#666" stroke-width="0.5" stroke-linecap="butt"/>
<line x1="93.45" y1="275.6" x2="93.45" y2="276.8" stroke="#666" stroke-width="0.5" stroke-linecap="butt"/>
<line x1="96.02" y1="275.6" x2="96.02" y2="276.8" stroke="#666" stroke-width="0.5" stroke-linecap="butt"/>
<line x1="98.12" y1="275.6" x2="98.12" y2="276.8" stroke="#666" stroke-width="0.5" stroke-linecap="butt"/>
<line x1="99.9" y1="275.6" x2="99.9" y2="276.8" stroke="#666" stroke-width="0.5" stroke-linecap="butt"/>
<line x1="101.43" y1="275.6" x2="101.43" y2="276.8" stroke="#666" stroke-width="0.5" stroke-linecap="butt"/>
<line x1="102.79" y1="275.6" x2="102.79" y2="276.8" stroke="#666" stroke-width="0.5" stroke-linecap="butt"/>
<line x1="104" y1="275.6" x2="104" y2="277.8" stroke="#555" stroke-width="0.7" stroke-linecap="butt"/>
<text transform="translate(102.5 282.9)" font-size="4.4" text-anchor="middle" fill="#444">10</text>
<text transform="translate(105.4 281.2)" font-size="3" text-anchor="middle" fill="#444">5</text>
<line x1="111.98" y1="275.6" x2="111.98" y2="276.8" stroke="#666" stroke-width="0.5" stroke-linecap="butt"/>
<line x1="116.64" y1="275.6" x2="116.64" y2="276.8" stroke="#666" stroke-width="0.5" stroke-linecap="butt"/>
<line x1="119.95" y1="275.6" x2="119.95" y2="276.8" stroke="#666" stroke-width="0.5" stroke-linecap="butt"/>
<line x1="122.52" y1="275.6" x2="122.52" y2="276.8" stroke="#666" stroke-width="0.5" stroke-linecap="butt"/>
<line x1="124.62" y1="275.6" x2="124.62" y2="276.8" stroke="#666" stroke-width="0.5" stroke-linecap="butt"/>
<line x1="126.4" y1="275.6" x2="126.4" y2="276.8" stroke="#666" stroke-width="0.5" stroke-linecap="butt"/>
<line x1="127.93" y1="275.6" x2="127.93" y2="276.8" stroke="#666" stroke-width="0.5" stroke-linecap="butt"/>
<line x1="129.29" y1="275.6" x2="129.29" y2="276.8" stroke="#666" stroke-width="0.5" stroke-linecap="butt"/>
<line x1="130.5" y1="275.6" x2="130.5" y2="277.8" stroke="#555" stroke-width="0.7" stroke-linecap="butt"/>
<text transform="translate(129 282.9)" font-size="4.4" text-anchor="middle" fill="#444">10</text>
<text transform="translate(131.9 281.2)" font-size="3" text-anchor="middle" fill="#444">6</text>
<text transform="translate(77.4 171.2)" font-size="6.3" text-anchor="middle" fill="#222" stroke="#222" stroke-width="0.15">hCPC3 Control</text>
<line x1="75.5" y1="231.6" x2="130.5" y2="231.6" stroke="#555" stroke-width="0.9" stroke-linecap="butt"/>
<line x1="75.5" y1="229.6" x2="75.5" y2="233.6" stroke="#555" stroke-width="0.9" stroke-linecap="butt"/>
<rect x="83.6" y="220.8" width="35.9" height="9.2" rx="0.8" fill="#fff" stroke="#c8c8c8" stroke-width="0.7"/>
<text transform="translate(101.55 228.3) scale(0.79 1)" font-size="7.6" text-anchor="middle" fill="#2a2a2a" stroke="#2a2a2a" stroke-width="0.18">41.3% EdU+</text>
<path d="M158.86 268.79 L159.58 272.88 L160.6 271.86 L161.62 268.79 L162.64 264.71 L163.66 259.6 L164.69 253.47 L165.71 247.33 L166.73 240.18 L167.75 232.01 L168.47 223.83 L169.08 215.66 L169.59 211.57 L170.31 208.5 L171.12 205.95 L171.84 209.01 L172.86 207.48 L173.88 203.9 L174.9 206.46 L175.93 208.5 L176.95 213.61 L177.97 219.74 L178.99 225.87 L180.01 232.01 L181.04 236.09 L182.06 242.22 L183.08 248.36 L184.1 254.49 L185.12 259.6 L186.66 265.73 L188.19 269.82 L189.72 272.88 L191.77 274.92 L194.83 275.74 L194.83 276 L158.86 276 Z" fill="#ebebeb" stroke="none" stroke-width="1" stroke-linejoin="round"/>
<path d="M158.86 275.95 L166.22 275.74 L172.35 275.13 L174.9 273.9 L176.44 270.84 L177.46 266.75 L178.48 261.64 L179.5 255.51 L180.52 248.36 L181.55 239.16 L182.36 229.96 L183.08 221.79 L183.79 214.63 L184.61 208.5 L185.63 203.39 L186.66 199.31 L187.47 196.24 L188.19 194.71 L188.9 193.69 L189.72 196.24 L190.74 201.35 L191.77 208.5 L192.79 215.66 L193.81 223.83 L194.83 230.98 L195.85 240.18 L196.87 248.36 L197.9 255.51 L198.92 261.64 L199.94 265.73 L201.47 268.28 L203.01 269.82 L201 267.86 L202.93 269.3 L205.34 271.23 L207.55 272.87 L209.19 271.71 L210.63 270.27 L212.56 270.75 L214.97 270.27 L216.9 271.23 L218.34 269.79 L220.27 267.86 L222.2 268.34 L224.12 266.9 L226.05 265.45 L227.98 264.01 L229.9 262.56 L231.83 261.12 L233.76 260.15 L235.69 258.22 L237.61 256.3 L238.58 255.33 L239.54 256.78 L241.47 255.33 L242.91 256.3 L244.36 258.22 L246.28 259.19 L247.73 257.74 L249.17 256.3 L250.62 254.37 L251.58 250.52 L252.55 240.88 L253.22 233.17 L253.8 227.39 L254.28 228.36 L254.96 237.99 L255.73 252.44 L256.4 266.9 L257.07 274.6 L258.81 275.57 L264.11 275.76 L264.11 276 L158.86 276 Z" fill="#8f8f8f" stroke="#2a2a2a" stroke-width="0.75" stroke-linejoin="round"/>
<path d="M158.86 268.79 L159.58 272.88 L160.6 271.86 L161.62 268.79 L162.64 264.71 L163.66 259.6 L164.69 253.47 L165.71 247.33 L166.73 240.18 L167.75 232.01 L168.47 223.83 L169.08 215.66 L169.59 211.57 L170.31 208.5 L171.12 205.95 L171.84 209.01 L172.86 207.48 L173.88 203.9 L174.9 206.46 L175.93 208.5 L176.95 213.61 L177.97 219.74 L178.99 225.87 L180.01 232.01 L181.04 236.09 L182.06 242.22 L183.08 248.36 L184.1 254.49 L185.12 259.6 L186.66 265.73 L188.19 269.82 L189.72 272.88 L191.77 274.92 L194.83 275.74 L194.83 276 L158.86 276 Z" fill="url(#dots)" stroke="#2a2a2a" stroke-width="0.75" stroke-linejoin="round"/>
<rect x="158.9" y="174.2" width="105.7" height="101.8" fill="none" stroke="#777" stroke-width="0.9"/>
<line x1="156.7" y1="276" x2="158.9" y2="276" stroke="#555" stroke-width="0.7" stroke-linecap="butt"/>
<text transform="translate(156.3 278)" font-size="4.8" text-anchor="end" fill="#333" stroke="#333" stroke-width="0.12">0</text>
<line x1="157.7" y1="266.51" x2="158.9" y2="266.51" stroke="#555" stroke-width="0.7" stroke-linecap="butt"/>
<line x1="156.7" y1="257.01" x2="158.9" y2="257.01" stroke="#555" stroke-width="0.7" stroke-linecap="butt"/>
<text transform="translate(156.3 259.01)" font-size="4.8" text-anchor="end" fill="#333" stroke="#333" stroke-width="0.12">20</text>
<line x1="157.7" y1="247.52" x2="158.9" y2="247.52" stroke="#555" stroke-width="0.7" stroke-linecap="butt"/>
<line x1="156.7" y1="238.03" x2="158.9" y2="238.03" stroke="#555" stroke-width="0.7" stroke-linecap="butt"/>
<text transform="translate(156.3 240.03)" font-size="4.8" text-anchor="end" fill="#333" stroke="#333" stroke-width="0.12">40</text>
<line x1="157.7" y1="228.53" x2="158.9" y2="228.53" stroke="#555" stroke-width="0.7" stroke-linecap="butt"/>
<line x1="156.7" y1="219.04" x2="158.9" y2="219.04" stroke="#555" stroke-width="0.7" stroke-linecap="butt"/>
<text transform="translate(156.3 221.04)" font-size="4.8" text-anchor="end" fill="#333" stroke="#333" stroke-width="0.12">60</text>
<line x1="157.7" y1="209.55" x2="158.9" y2="209.55" stroke="#555" stroke-width="0.7" stroke-linecap="butt"/>
<line x1="156.7" y1="200.05" x2="158.9" y2="200.05" stroke="#555" stroke-width="0.7" stroke-linecap="butt"/>
<text transform="translate(156.3 202.05)" font-size="4.8" text-anchor="end" fill="#333" stroke="#333" stroke-width="0.12">80</text>
<line x1="157.7" y1="190.56" x2="158.9" y2="190.56" stroke="#555" stroke-width="0.7" stroke-linecap="butt"/>
<line x1="156.7" y1="181.07" x2="158.9" y2="181.07" stroke="#555" stroke-width="0.7" stroke-linecap="butt"/>
<text transform="translate(156.3 183.07)" font-size="4.8" text-anchor="end" fill="#333" stroke="#333" stroke-width="0.12">100</text>
<line x1="158.9" y1="276" x2="158.9" y2="278.2" stroke="#555" stroke-width="0.7" stroke-linecap="butt"/>
<line x1="166.85" y1="276" x2="166.85" y2="277.2" stroke="#666" stroke-width="0.5" stroke-linecap="butt"/>
<line x1="171.51" y1="276" x2="171.51" y2="277.2" stroke="#666" stroke-width="0.5" stroke-linecap="butt"/>
<line x1="174.81" y1="276" x2="174.81" y2="277.2" stroke="#666" stroke-width="0.5" stroke-linecap="butt"/>
<line x1="177.37" y1="276" x2="177.37" y2="277.2" stroke="#666" stroke-width="0.5" stroke-linecap="butt"/>
<line x1="179.46" y1="276" x2="179.46" y2="277.2" stroke="#666" stroke-width="0.5" stroke-linecap="butt"/>
<line x1="181.23" y1="276" x2="181.23" y2="277.2" stroke="#666" stroke-width="0.5" stroke-linecap="butt"/>
<line x1="182.76" y1="276" x2="182.76" y2="277.2" stroke="#666" stroke-width="0.5" stroke-linecap="butt"/>
<line x1="184.12" y1="276" x2="184.12" y2="277.2" stroke="#666" stroke-width="0.5" stroke-linecap="butt"/>
<line x1="185.33" y1="276" x2="185.33" y2="278.2" stroke="#555" stroke-width="0.7" stroke-linecap="butt"/>
<text transform="translate(183.83 283.3)" font-size="4.4" text-anchor="middle" fill="#444">10</text>
<text transform="translate(186.73 281.6)" font-size="3" text-anchor="middle" fill="#444">3</text>
<line x1="193.28" y1="276" x2="193.28" y2="277.2" stroke="#666" stroke-width="0.5" stroke-linecap="butt"/>
<line x1="197.93" y1="276" x2="197.93" y2="277.2" stroke="#666" stroke-width="0.5" stroke-linecap="butt"/>
<line x1="201.23" y1="276" x2="201.23" y2="277.2" stroke="#666" stroke-width="0.5" stroke-linecap="butt"/>
<line x1="203.8" y1="276" x2="203.8" y2="277.2" stroke="#666" stroke-width="0.5" stroke-linecap="butt"/>
<line x1="205.89" y1="276" x2="205.89" y2="277.2" stroke="#666" stroke-width="0.5" stroke-linecap="butt"/>
<line x1="207.66" y1="276" x2="207.66" y2="277.2" stroke="#666" stroke-width="0.5" stroke-linecap="butt"/>
<line x1="209.19" y1="276" x2="209.19" y2="277.2" stroke="#666" stroke-width="0.5" stroke-linecap="butt"/>
<line x1="210.54" y1="276" x2="210.54" y2="277.2" stroke="#666" stroke-width="0.5" stroke-linecap="butt"/>
<line x1="211.75" y1="276" x2="211.75" y2="278.2" stroke="#555" stroke-width="0.7" stroke-linecap="butt"/>
<text transform="translate(210.25 283.3)" font-size="4.4" text-anchor="middle" fill="#444">10</text>
<text transform="translate(213.15 281.6)" font-size="3" text-anchor="middle" fill="#444">4</text>
<line x1="219.7" y1="276" x2="219.7" y2="277.2" stroke="#666" stroke-width="0.5" stroke-linecap="butt"/>
<line x1="224.36" y1="276" x2="224.36" y2="277.2" stroke="#666" stroke-width="0.5" stroke-linecap="butt"/>
<line x1="227.66" y1="276" x2="227.66" y2="277.2" stroke="#666" stroke-width="0.5" stroke-linecap="butt"/>
<line x1="230.22" y1="276" x2="230.22" y2="277.2" stroke="#666" stroke-width="0.5" stroke-linecap="butt"/>
<line x1="232.31" y1="276" x2="232.31" y2="277.2" stroke="#666" stroke-width="0.5" stroke-linecap="butt"/>
<line x1="234.08" y1="276" x2="234.08" y2="277.2" stroke="#666" stroke-width="0.5" stroke-linecap="butt"/>
<line x1="235.61" y1="276" x2="235.61" y2="277.2" stroke="#666" stroke-width="0.5" stroke-linecap="butt"/>
<line x1="236.97" y1="276" x2="236.97" y2="277.2" stroke="#666" stroke-width="0.5" stroke-linecap="butt"/>
<line x1="238.18" y1="276" x2="238.18" y2="278.2" stroke="#555" stroke-width="0.7" stroke-linecap="butt"/>
<text transform="translate(236.68 283.3)" font-size="4.4" text-anchor="middle" fill="#444">10</text>
<text transform="translate(239.58 281.6)" font-size="3" text-anchor="middle" fill="#444">5</text>
<line x1="246.13" y1="276" x2="246.13" y2="277.2" stroke="#666" stroke-width="0.5" stroke-linecap="butt"/>
<line x1="250.78" y1="276" x2="250.78" y2="277.2" stroke="#666" stroke-width="0.5" stroke-linecap="butt"/>
<line x1="254.08" y1="276" x2="254.08" y2="277.2" stroke="#666" stroke-width="0.5" stroke-linecap="butt"/>
<line x1="256.65" y1="276" x2="256.65" y2="277.2" stroke="#666" stroke-width="0.5" stroke-linecap="butt"/>
<line x1="258.74" y1="276" x2="258.74" y2="277.2" stroke="#666" stroke-width="0.5" stroke-linecap="butt"/>
<line x1="260.51" y1="276" x2="260.51" y2="277.2" stroke="#666" stroke-width="0.5" stroke-linecap="butt"/>
<line x1="262.04" y1="276" x2="262.04" y2="277.2" stroke="#666" stroke-width="0.5" stroke-linecap="butt"/>
<line x1="263.39" y1="276" x2="263.39" y2="277.2" stroke="#666" stroke-width="0.5" stroke-linecap="butt"/>
<line x1="264.6" y1="276" x2="264.6" y2="278.2" stroke="#555" stroke-width="0.7" stroke-linecap="butt"/>
<text transform="translate(263.1 283.3)" font-size="4.4" text-anchor="middle" fill="#444">10</text>
<text transform="translate(266 281.6)" font-size="3" text-anchor="middle" fill="#444">6</text>
<text transform="translate(211.8 171.9) scale(0.97 1)" font-size="6.3" text-anchor="middle" fill="#222" stroke="#222" stroke-width="0.15">hCPC3 siNeg</text>
<line x1="209.5" y1="227.4" x2="264.6" y2="227.4" stroke="#555" stroke-width="0.9" stroke-linecap="butt"/>
<line x1="209.5" y1="225.4" x2="209.5" y2="229.4" stroke="#555" stroke-width="0.9" stroke-linecap="butt"/>
<line x1="264.6" y1="225.4" x2="264.6" y2="229.4" stroke="#555" stroke-width="0.9" stroke-linecap="butt"/>
<rect x="217.9" y="216.5" width="38" height="9.7" rx="0.8" fill="#fff" stroke="#c8c8c8" stroke-width="0.7"/>
<text transform="translate(236.9 224.5) scale(0.79 1)" font-size="7.6" text-anchor="middle" fill="#2a2a2a" stroke="#2a2a2a" stroke-width="0.18">39.7 % EdU+</text>
<path d="M290.25 268.79 L290.86 272.88 L292.09 271.86 L293.11 268.79 L294.13 263.68 L295.15 258.57 L296.17 252.44 L297.2 246.31 L298.22 239.16 L299.24 230.98 L300.06 222.81 L300.77 214.63 L301.59 210.55 L302.31 206.46 L303.12 205.44 L303.84 209.52 L304.86 205.44 L305.58 203.9 L306.39 206.46 L307.42 208.5 L308.44 212.59 L309.46 218.72 L310.48 225.87 L311.5 232.01 L312.52 235.07 L313.55 240.18 L314.36 246.31 L315.39 252.44 L316.61 258.57 L318.15 264.71 L319.68 268.79 L321.72 272.37 L323.77 274.41 L326.83 275.44 L326.83 276 L290.25 276 Z" fill="#d2d2d2" stroke="none" stroke-width="1" stroke-linejoin="round"/>
<path d="M290.25 275.95 L298.22 275.74 L303.33 275.13 L306.9 273.9 L308.44 271.86 L309.97 266.75 L310.99 260.62 L312.01 252.44 L313.04 242.22 L314.06 232.01 L314.77 223.83 L315.59 215.66 L316.41 207.48 L317.12 201.35 L317.84 196.24 L318.66 195.22 L319.68 196.24 L320.5 199.31 L321.21 204.42 L322.23 212.59 L323.25 220.77 L324.28 228.94 L325.3 238.14 L326.32 247.33 L327.34 255.51 L328.36 262.66 L329.39 266.75 L330.92 269.82 L332.96 271.86 L335.01 273.9 L337.05 274.41 L333 272.2 L334.93 273.64 L336.85 274.12 L338.78 273.16 L342.63 272.68 L346.49 272.2 L350.34 271.71 L353.23 271.23 L356.12 270.27 L359.98 269.59 L363.83 269.79 L366.72 269.02 L369.61 270.27 L372.5 270.94 L375.39 269.79 L377.32 269.3 L379.25 267.38 L380.69 265.93 L382.62 265.45 L383.58 266.9 L384.55 270.75 L385.51 274.6 L386.96 275.57 L390.81 275.76 L395.63 276.05 L395.63 276 L290.25 276 Z" fill="#c9c9c9" stroke="#2a2a2a" stroke-width="0.75" stroke-linejoin="round"/>
<path d="M290.25 268.79 L290.86 272.88 L292.09 271.86 L293.11 268.79 L294.13 263.68 L295.15 258.57 L296.17 252.44 L297.2 246.31 L298.22 239.16 L299.24 230.98 L300.06 222.81 L300.77 214.63 L301.59 210.55 L302.31 206.46 L303.12 205.44 L303.84 209.52 L304.86 205.44 L305.58 203.9 L306.39 206.46 L307.42 208.5 L308.44 212.59 L309.46 218.72 L310.48 225.87 L311.5 232.01 L312.52 235.07 L313.55 240.18 L314.36 246.31 L315.39 252.44 L316.61 258.57 L318.15 264.71 L319.68 268.79 L321.72 272.37 L323.77 274.41 L326.83 275.44 L326.83 276 L290.25 276 Z" fill="url(#dots2)" stroke="#2a2a2a" stroke-width="0.75" stroke-linejoin="round"/>
<rect x="290.2" y="174" width="105.9" height="102" fill="none" stroke="#777" stroke-width="0.9"/>
<line x1="288" y1="276" x2="290.2" y2="276" stroke="#555" stroke-width="0.7" stroke-linecap="butt"/>
<text transform="translate(287.6 278)" font-size="4.8" text-anchor="end" fill="#333" stroke="#333" stroke-width="0.12">0</text>
<line x1="289" y1="266.49" x2="290.2" y2="266.49" stroke="#555" stroke-width="0.7" stroke-linecap="butt"/>
<line x1="288" y1="256.98" x2="290.2" y2="256.98" stroke="#555" stroke-width="0.7" stroke-linecap="butt"/>
<text transform="translate(287.6 258.98)" font-size="4.8" text-anchor="end" fill="#333" stroke="#333" stroke-width="0.12">20</text>
<line x1="289" y1="247.46" x2="290.2" y2="247.46" stroke="#555" stroke-width="0.7" stroke-linecap="butt"/>
<line x1="288" y1="237.95" x2="290.2" y2="237.95" stroke="#555" stroke-width="0.7" stroke-linecap="butt"/>
<text transform="translate(287.6 239.95)" font-size="4.8" text-anchor="end" fill="#333" stroke="#333" stroke-width="0.12">40</text>
<line x1="289" y1="228.44" x2="290.2" y2="228.44" stroke="#555" stroke-width="0.7" stroke-linecap="butt"/>
<line x1="288" y1="218.93" x2="290.2" y2="218.93" stroke="#555" stroke-width="0.7" stroke-linecap="butt"/>
<text transform="translate(287.6 220.93)" font-size="4.8" text-anchor="end" fill="#333" stroke="#333" stroke-width="0.12">60</text>
<line x1="289" y1="209.42" x2="290.2" y2="209.42" stroke="#555" stroke-width="0.7" stroke-linecap="butt"/>
<line x1="288" y1="199.9" x2="290.2" y2="199.9" stroke="#555" stroke-width="0.7" stroke-linecap="butt"/>
<text transform="translate(287.6 201.9)" font-size="4.8" text-anchor="end" fill="#333" stroke="#333" stroke-width="0.12">80</text>
<line x1="289" y1="190.39" x2="290.2" y2="190.39" stroke="#555" stroke-width="0.7" stroke-linecap="butt"/>
<line x1="288" y1="180.88" x2="290.2" y2="180.88" stroke="#555" stroke-width="0.7" stroke-linecap="butt"/>
<text transform="translate(287.6 182.88)" font-size="4.8" text-anchor="end" fill="#333" stroke="#333" stroke-width="0.12">100</text>
<line x1="290.2" y1="276" x2="290.2" y2="278.2" stroke="#555" stroke-width="0.7" stroke-linecap="butt"/>
<line x1="298.17" y1="276" x2="298.17" y2="277.2" stroke="#666" stroke-width="0.5" stroke-linecap="butt"/>
<line x1="302.83" y1="276" x2="302.83" y2="277.2" stroke="#666" stroke-width="0.5" stroke-linecap="butt"/>
<line x1="306.14" y1="276" x2="306.14" y2="277.2" stroke="#666" stroke-width="0.5" stroke-linecap="butt"/>
<line x1="308.71" y1="276" x2="308.71" y2="277.2" stroke="#666" stroke-width="0.5" stroke-linecap="butt"/>
<line x1="310.8" y1="276" x2="310.8" y2="277.2" stroke="#666" stroke-width="0.5" stroke-linecap="butt"/>
<line x1="312.57" y1="276" x2="312.57" y2="277.2" stroke="#666" stroke-width="0.5" stroke-linecap="butt"/>
<line x1="314.11" y1="276" x2="314.11" y2="277.2" stroke="#666" stroke-width="0.5" stroke-linecap="butt"/>
<line x1="315.46" y1="276" x2="315.46" y2="277.2" stroke="#666" stroke-width="0.5" stroke-linecap="butt"/>
<line x1="316.68" y1="276" x2="316.68" y2="278.2" stroke="#555" stroke-width="0.7" stroke-linecap="butt"/>
<text transform="translate(315.18 283.3)" font-size="4.4" text-anchor="middle" fill="#444">10</text>
<text transform="translate(318.07 281.6)" font-size="3" text-anchor="middle" fill="#444">3</text>
<line x1="324.64" y1="276" x2="324.64" y2="277.2" stroke="#666" stroke-width="0.5" stroke-linecap="butt"/>
<line x1="329.31" y1="276" x2="329.31" y2="277.2" stroke="#666" stroke-width="0.5" stroke-linecap="butt"/>
<line x1="332.61" y1="276" x2="332.61" y2="277.2" stroke="#666" stroke-width="0.5" stroke-linecap="butt"/>
<line x1="335.18" y1="276" x2="335.18" y2="277.2" stroke="#666" stroke-width="0.5" stroke-linecap="butt"/>
<line x1="337.28" y1="276" x2="337.28" y2="277.2" stroke="#666" stroke-width="0.5" stroke-linecap="butt"/>
<line x1="339.05" y1="276" x2="339.05" y2="277.2" stroke="#666" stroke-width="0.5" stroke-linecap="butt"/>
<line x1="340.58" y1="276" x2="340.58" y2="277.2" stroke="#666" stroke-width="0.5" stroke-linecap="butt"/>
<line x1="341.94" y1="276" x2="341.94" y2="277.2" stroke="#666" stroke-width="0.5" stroke-linecap="butt"/>
<line x1="343.15" y1="276" x2="343.15" y2="278.2" stroke="#555" stroke-width="0.7" stroke-linecap="butt"/>
<text transform="translate(341.65 283.3)" font-size="4.4" text-anchor="middle" fill="#444">10</text>
<text transform="translate(344.55 281.6)" font-size="3" text-anchor="middle" fill="#444">4</text>
<line x1="351.12" y1="276" x2="351.12" y2="277.2" stroke="#666" stroke-width="0.5" stroke-linecap="butt"/>
<line x1="355.78" y1="276" x2="355.78" y2="277.2" stroke="#666" stroke-width="0.5" stroke-linecap="butt"/>
<line x1="359.09" y1="276" x2="359.09" y2="277.2" stroke="#666" stroke-width="0.5" stroke-linecap="butt"/>
<line x1="361.66" y1="276" x2="361.66" y2="277.2" stroke="#666" stroke-width="0.5" stroke-linecap="butt"/>
<line x1="363.75" y1="276" x2="363.75" y2="277.2" stroke="#666" stroke-width="0.5" stroke-linecap="butt"/>
<line x1="365.52" y1="276" x2="365.52" y2="277.2" stroke="#666" stroke-width="0.5" stroke-linecap="butt"/>
<line x1="367.06" y1="276" x2="367.06" y2="277.2" stroke="#666" stroke-width="0.5" stroke-linecap="butt"/>
<line x1="368.41" y1="276" x2="368.41" y2="277.2" stroke="#666" stroke-width="0.5" stroke-linecap="butt"/>
<line x1="369.62" y1="276" x2="369.62" y2="278.2" stroke="#555" stroke-width="0.7" stroke-linecap="butt"/>
<text transform="translate(368.12 283.3)" font-size="4.4" text-anchor="middle" fill="#444">10</text>
<text transform="translate(371.02 281.6)" font-size="3" text-anchor="middle" fill="#444">5</text>
<line x1="377.59" y1="276" x2="377.59" y2="277.2" stroke="#666" stroke-width="0.5" stroke-linecap="butt"/>
<line x1="382.26" y1="276" x2="382.26" y2="277.2" stroke="#666" stroke-width="0.5" stroke-linecap="butt"/>
<line x1="385.56" y1="276" x2="385.56" y2="277.2" stroke="#666" stroke-width="0.5" stroke-linecap="butt"/>
<line x1="388.13" y1="276" x2="388.13" y2="277.2" stroke="#666" stroke-width="0.5" stroke-linecap="butt"/>
<line x1="390.23" y1="276" x2="390.23" y2="277.2" stroke="#666" stroke-width="0.5" stroke-linecap="butt"/>
<line x1="392" y1="276" x2="392" y2="277.2" stroke="#666" stroke-width="0.5" stroke-linecap="butt"/>
<line x1="393.53" y1="276" x2="393.53" y2="277.2" stroke="#666" stroke-width="0.5" stroke-linecap="butt"/>
<line x1="394.89" y1="276" x2="394.89" y2="277.2" stroke="#666" stroke-width="0.5" stroke-linecap="butt"/>
<line x1="396.1" y1="276" x2="396.1" y2="278.2" stroke="#555" stroke-width="0.7" stroke-linecap="butt"/>
<text transform="translate(394.6 283.3)" font-size="4.4" text-anchor="middle" fill="#444">10</text>
<text transform="translate(397.5 281.6)" font-size="3" text-anchor="middle" fill="#444">6</text>
<text transform="translate(343 171.7) scale(0.96 1)" font-size="6.3" text-anchor="middle" fill="#222" stroke="#222" stroke-width="0.15">hCPC3 siIMP3</text>
<line x1="342.3" y1="230.1" x2="396.1" y2="230.1" stroke="#555" stroke-width="0.9" stroke-linecap="butt"/>
<line x1="342.3" y1="228.1" x2="342.3" y2="232.1" stroke="#555" stroke-width="0.9" stroke-linecap="butt"/>
<rect x="349.2" y="217.4" width="38.5" height="9.8" rx="0.8" fill="#fff" stroke="#c8c8c8" stroke-width="0.7"/>
<text transform="translate(368.45 225.5) scale(0.79 1)" font-size="7.6" text-anchor="middle" fill="#2a2a2a" stroke="#2a2a2a" stroke-width="0.18">19.9 % EdU+</text>
<text transform="translate(8.9 88.4) rotate(-90) scale(0.88 1)" font-size="6.4" text-anchor="middle" fill="#333" stroke="#333" stroke-width="0.15">%Max</text>
<text transform="translate(8 224.5) rotate(-90) scale(0.88 1)" font-size="6.4" text-anchor="middle" fill="#333" stroke="#333" stroke-width="0.15">%Max</text>
<rect x="409.4" y="141.2" width="11.5" height="7.6" fill="#2b2b2b"/>
<text transform="translate(425.3 148.5)" font-size="8.75" text-anchor="start" fill="#222" stroke="#222" stroke-width="0.12">Control</text>
<rect x="409.4" y="154.1" width="11.5" height="7.6" fill="#8a8a8a"/>
<text transform="translate(425.3 161.4)" font-size="8.75" text-anchor="start" fill="#222" stroke="#222" stroke-width="0.12">siNeg</text>
<rect x="409.4" y="167" width="11.5" height="7.6" fill="#cdcdcd" stroke="#bdbdbd" stroke-width="0.6"/>
<text transform="translate(425.3 174.3)" font-size="8.75" text-anchor="start" fill="#222" stroke="#222" stroke-width="0.12">siIMP3</text>
<line x1="510.4" y1="32" x2="510.4" y2="123.6" stroke="#1a1a1a" stroke-width="1.3" stroke-linecap="butt"/>
<line x1="509.8" y1="123" x2="647.3" y2="123" stroke="#1a1a1a" stroke-width="1.3" stroke-linecap="butt"/>
<line x1="506.1" y1="123" x2="510.4" y2="123" stroke="#1a1a1a" stroke-width="1.3" stroke-linecap="butt"/>
<text transform="translate(506.2 125.4)" font-size="6.5" font-weight="bold" text-anchor="end" fill="#222" stroke="#222" stroke-width="0.15">0.0</text>
<line x1="506.1" y1="92.67" x2="510.4" y2="92.67" stroke="#1a1a1a" stroke-width="1.3" stroke-linecap="butt"/>
<text transform="translate(506.2 95.07)" font-size="6.5" font-weight="bold" text-anchor="end" fill="#222" stroke="#222" stroke-width="0.15">0.5</text>
<line x1="506.1" y1="62.33" x2="510.4" y2="62.33" stroke="#1a1a1a" stroke-width="1.3" stroke-linecap="butt"/>
<text transform="translate(506.2 64.73)" font-size="6.5" font-weight="bold" text-anchor="end" fill="#222" stroke="#222" stroke-width="0.15">1.0</text>
<line x1="506.1" y1="32" x2="510.4" y2="32" stroke="#1a1a1a" stroke-width="1.3" stroke-linecap="butt"/>
<text transform="translate(506.2 34.4)" font-size="6.5" font-weight="bold" text-anchor="end" fill="#222" stroke="#222" stroke-width="0.15">1.5</text>
<rect x="518.2" y="62.6" width="30.1" height="60.4" fill="#2a2a2a" stroke="#2a2a2a" stroke-width="1"/>
<line x1="533.25" y1="123" x2="533.25" y2="126.6" stroke="#1a1a1a" stroke-width="1.1" stroke-linecap="butt"/>
<line x1="578.9" y1="70.6" x2="578.9" y2="75.3" stroke="#222" stroke-width="1.2" stroke-linecap="butt"/>
<line x1="570.9" y1="70.6" x2="586.9" y2="70.6" stroke="#222" stroke-width="1.2" stroke-linecap="butt"/>
<rect x="563.7" y="75.8" width="30.4" height="47.2" fill="#8a8a8a" stroke="#8a8a8a" stroke-width="1"/>
<line x1="578.9" y1="123" x2="578.9" y2="126.6" stroke="#1a1a1a" stroke-width="1.1" stroke-linecap="butt"/>
<line x1="624.7" y1="99.2" x2="624.7" y2="100.4" stroke="#222" stroke-width="1.2" stroke-linecap="butt"/>
<line x1="616.7" y1="99.2" x2="632.7" y2="99.2" stroke="#222" stroke-width="1.2" stroke-linecap="butt"/>
<rect x="609.5" y="100.9" width="30.4" height="22.1" fill="#cdcdcd" stroke="#a9a9a9" stroke-width="1"/>
<line x1="624.7" y1="123" x2="624.7" y2="126.6" stroke="#1a1a1a" stroke-width="1.1" stroke-linecap="butt"/>
<path d="M532.8 43 L532.8 35.5 L625 35.5 L625 43" fill="none" stroke="#222" stroke-width="1.1"/>
<text transform="translate(577.8 34.33)" font-size="10" font-weight="bold" text-anchor="middle" fill="#222">**</text>
<path d="M578.6 62.1 L578.6 54.9 L625 54.9 L625 62.1" fill="none" stroke="#222" stroke-width="1.1"/>
<text transform="translate(604.2 54.23)" font-size="10" font-weight="bold" text-anchor="middle" fill="#222">*</text>
<text transform="translate(579.5 16.4)" font-size="10.2" font-weight="bold" text-anchor="middle" fill="#1a1a1a">hCPC1</text>
<text transform="translate(487.4 77.3) rotate(-90) scale(0.86 1)" font-size="8.4" font-weight="bold" text-anchor="middle" fill="#1a1a1a">Relative % EdU+ Prolif. Cell</text>
<text transform="translate(534.8 132.7) rotate(-45) scale(0.88 1)" font-size="8.4" font-weight="bold" text-anchor="end" fill="#1a1a1a">Control</text>
<text transform="translate(580.5 132.7) rotate(-45) scale(0.88 1)" font-size="8.4" font-weight="bold" text-anchor="end" fill="#1a1a1a">siNeg</text>
<text transform="translate(627 132.7) rotate(-45) scale(0.88 1)" font-size="8.4" font-weight="bold" text-anchor="end" fill="#1a1a1a">siIMP3</text>
<line x1="510" y1="176.3" x2="510" y2="272" stroke="#1a1a1a" stroke-width="1.3" stroke-linecap="butt"/>
<line x1="509.4" y1="271.4" x2="652" y2="271.4" stroke="#1a1a1a" stroke-width="1.3" stroke-linecap="butt"/>
<line x1="505.7" y1="271.4" x2="510" y2="271.4" stroke="#1a1a1a" stroke-width="1.3" stroke-linecap="butt"/>
<text transform="translate(505.8 273.8)" font-size="6.5" font-weight="bold" text-anchor="end" fill="#222" stroke="#222" stroke-width="0.15">0.0</text>
<line x1="505.7" y1="239.7" x2="510" y2="239.7" stroke="#1a1a1a" stroke-width="1.3" stroke-linecap="butt"/>
<text transform="translate(505.8 242.1)" font-size="6.5" font-weight="bold" text-anchor="end" fill="#222" stroke="#222" stroke-width="0.15">0.5</text>
<line x1="505.7" y1="208" x2="510" y2="208" stroke="#1a1a1a" stroke-width="1.3" stroke-linecap="butt"/>
<text transform="translate(505.8 210.4)" font-size="6.5" font-weight="bold" text-anchor="end" fill="#222" stroke="#222" stroke-width="0.15">1.0</text>
<line x1="505.7" y1="176.3" x2="510" y2="176.3" stroke="#1a1a1a" stroke-width="1.3" stroke-linecap="butt"/>
<text transform="translate(505.8 178.7)" font-size="6.5" font-weight="bold" text-anchor="end" fill="#222" stroke="#222" stroke-width="0.15">1.5</text>
<rect x="517.5" y="208.2" width="31.7" height="63.2" fill="#2a2a2a" stroke="#2a2a2a" stroke-width="1"/>
<line x1="533.35" y1="271.4" x2="533.35" y2="275" stroke="#1a1a1a" stroke-width="1.1" stroke-linecap="butt"/>
<line x1="580.8" y1="204" x2="580.8" y2="207.4" stroke="#222" stroke-width="1.2" stroke-linecap="butt"/>
<line x1="572.8" y1="204" x2="588.8" y2="204" stroke="#222" stroke-width="1.2" stroke-linecap="butt"/>
<rect x="565" y="207.9" width="31.6" height="63.5" fill="#8a8a8a" stroke="#8a8a8a" stroke-width="1"/>
<line x1="580.8" y1="271.4" x2="580.8" y2="275" stroke="#1a1a1a" stroke-width="1.1" stroke-linecap="butt"/>
<line x1="628.05" y1="218.1" x2="628.05" y2="231.2" stroke="#222" stroke-width="1.2" stroke-linecap="butt"/>
<line x1="620.05" y1="218.1" x2="636.05" y2="218.1" stroke="#222" stroke-width="1.2" stroke-linecap="butt"/>
<rect x="612.4" y="231.7" width="31.3" height="39.7" fill="#cdcdcd" stroke="#a9a9a9" stroke-width="1"/>
<line x1="628.05" y1="271.4" x2="628.05" y2="275" stroke="#1a1a1a" stroke-width="1.1" stroke-linecap="butt"/>
<line x1="535" y1="190.8" x2="580.5" y2="190.8" stroke="#222" stroke-width="1.3" stroke-linecap="butt"/>
<path d="M558.2 190.8 L558.2 182.4 L627.3 182.4 L627.3 190.4" fill="none" stroke="#222" stroke-width="1.3"/>
<text transform="translate(594.8 181.12)" font-size="9" font-weight="bold" text-anchor="middle" fill="#222">*</text>
<text transform="translate(580.5 165.5)" font-size="10.2" font-weight="bold" text-anchor="middle" fill="#1a1a1a">hCPC3</text>
<text transform="translate(485.6 223.5) rotate(-90) scale(0.9 1)" font-size="8.4" font-weight="bold" text-anchor="middle" fill="#1a1a1a">Relative % EdU+ Prolif. Cell</text>
<text transform="translate(535 281.2) rotate(-45) scale(0.88 1)" font-size="8.4" font-weight="bold" text-anchor="end" fill="#1a1a1a">Control</text>
<text transform="translate(582.3 281.2) rotate(-45) scale(0.88 1)" font-size="8.4" font-weight="bold" text-anchor="end" fill="#1a1a1a">siNeg</text>
<text transform="translate(629.5 281.2) rotate(-45) scale(0.88 1)" font-size="8.4" font-weight="bold" text-anchor="end" fill="#1a1a1a">siIMP3</text>
<line x1="48" y1="369.5" x2="48" y2="526.4" stroke="#1a1a1a" stroke-width="2.2" stroke-linecap="butt"/>
<line x1="44.2" y1="525.4" x2="280" y2="525.4" stroke="#1a1a1a" stroke-width="2.2" stroke-linecap="butt"/>
<line x1="43.8" y1="525.4" x2="48" y2="525.4" stroke="#1a1a1a" stroke-width="2" stroke-linecap="butt"/>
<text transform="translate(41 529.4)" font-size="11.5" font-weight="bold" text-anchor="end" fill="#222" stroke="#222" stroke-width="0.22">0</text>
<line x1="43.8" y1="473.7" x2="48" y2="473.7" stroke="#1a1a1a" stroke-width="2" stroke-linecap="butt"/>
<text transform="translate(41 477.7)" font-size="11.5" font-weight="bold" text-anchor="end" fill="#222" stroke="#222" stroke-width="0.22">50</text>
<line x1="43.8" y1="422" x2="48" y2="422" stroke="#1a1a1a" stroke-width="2" stroke-linecap="butt"/>
<text transform="translate(41 426)" font-size="11.5" font-weight="bold" text-anchor="end" fill="#222" stroke="#222" stroke-width="0.22">100</text>
<line x1="43.8" y1="370.3" x2="48" y2="370.3" stroke="#1a1a1a" stroke-width="2" stroke-linecap="butt"/>
<text transform="translate(41 374.3)" font-size="11.5" font-weight="bold" text-anchor="end" fill="#222" stroke="#222" stroke-width="0.22">150</text>
<text transform="translate(12.5 447.8) rotate(-90) scale(0.9 1)" font-size="14" font-weight="bold" text-anchor="middle" fill="#1a1a1a" stroke="#1a1a1a" stroke-width="0.2">% Wound Area</text>
<text transform="translate(163.7 350.8)" font-size="14.7" font-weight="bold" text-anchor="middle" fill="#1a1a1a" stroke="#1a1a1a" stroke-width="0.2">hCPC1</text>
<rect x="54.4" y="422.1" width="8.2" height="103.3" fill="#2a2a2a"/>
<rect x="67.3" y="422.1" width="8.1" height="103.3" fill="#a6a6a6"/>
<rect x="80" y="422.1" width="8.2" height="103.3" fill="#878787"/>
<line x1="105.1" y1="420" x2="105.1" y2="426.8" stroke="#222" stroke-width="1.6" stroke-linecap="butt"/>
<line x1="102.4" y1="420" x2="107.8" y2="420" stroke="#222" stroke-width="1.6" stroke-linecap="butt"/>
<rect x="101.2" y="426.8" width="7.8" height="98.6" fill="#2a2a2a"/>
<line x1="117.95" y1="423.3" x2="117.95" y2="427.5" stroke="#222" stroke-width="1.6" stroke-linecap="butt"/>
<line x1="115.25" y1="423.3" x2="120.65" y2="423.3" stroke="#222" stroke-width="1.6" stroke-linecap="butt"/>
<rect x="113.9" y="427.5" width="8.1" height="97.9" fill="#a6a6a6"/>
<line x1="130.4" y1="421.7" x2="130.4" y2="423.5" stroke="#222" stroke-width="1.6" stroke-linecap="butt"/>
<line x1="127.7" y1="421.7" x2="133.1" y2="421.7" stroke="#222" stroke-width="1.6" stroke-linecap="butt"/>
<rect x="126.3" y="423.5" width="8.2" height="101.9" fill="#878787"/>
<line x1="151.45" y1="453" x2="151.45" y2="462.2" stroke="#222" stroke-width="1.6" stroke-linecap="butt"/>
<line x1="148.75" y1="453" x2="154.15" y2="453" stroke="#222" stroke-width="1.6" stroke-linecap="butt"/>
<rect x="147.5" y="462.2" width="7.9" height="63.2" fill="#2a2a2a"/>
<line x1="163.85" y1="451.8" x2="163.85" y2="454.1" stroke="#222" stroke-width="1.6" stroke-linecap="butt"/>
<line x1="161.15" y1="451.8" x2="166.55" y2="451.8" stroke="#222" stroke-width="1.6" stroke-linecap="butt"/>
<rect x="159.7" y="454.1" width="8.3" height="71.3" fill="#a6a6a6"/>
<line x1="176.65" y1="437.7" x2="176.65" y2="443.1" stroke="#222" stroke-width="1.6" stroke-linecap="butt"/>
<line x1="173.95" y1="437.7" x2="179.35" y2="437.7" stroke="#222" stroke-width="1.6" stroke-linecap="butt"/>
<rect x="172.3" y="443.1" width="8.7" height="82.3" fill="#878787"/>
<line x1="197.55" y1="461.6" x2="197.55" y2="477.5" stroke="#222" stroke-width="1.6" stroke-linecap="butt"/>
<line x1="194.85" y1="461.6" x2="200.25" y2="461.6" stroke="#222" stroke-width="1.6" stroke-linecap="butt"/>
<rect x="193.4" y="477.5" width="8.3" height="47.9" fill="#2a2a2a"/>
<line x1="210.2" y1="463" x2="210.2" y2="467.2" stroke="#222" stroke-width="1.6" stroke-linecap="butt"/>
<line x1="207.5" y1="463" x2="212.9" y2="463" stroke="#222" stroke-width="1.6" stroke-linecap="butt"/>
<rect x="206.1" y="467.2" width="8.2" height="58.2" fill="#a6a6a6"/>
<line x1="222.95" y1="448.5" x2="222.95" y2="455.7" stroke="#222" stroke-width="1.6" stroke-linecap="butt"/>
<line x1="220.25" y1="448.5" x2="225.65" y2="448.5" stroke="#222" stroke-width="1.6" stroke-linecap="butt"/>
<rect x="218.8" y="455.7" width="8.3" height="69.7" fill="#878787"/>
<line x1="269.3" y1="516.8" x2="269.3" y2="524" stroke="#222" stroke-width="1.6" stroke-linecap="butt"/>
<line x1="266.7" y1="516.8" x2="271.9" y2="516.8" stroke="#222" stroke-width="1.6" stroke-linecap="butt"/>
<rect x="265.4" y="523.1" width="7.9" height="2.3" fill="#878787"/>
<line x1="71.1" y1="525.4" x2="71.1" y2="529.2" stroke="#1a1a1a" stroke-width="2" stroke-linecap="butt"/>
<text transform="translate(71.1 542.6)" font-size="11.2" font-weight="bold" text-anchor="middle" fill="#222" stroke="#222" stroke-width="0.22">t=0h</text>
<line x1="117.6" y1="525.4" x2="117.6" y2="529.2" stroke="#1a1a1a" stroke-width="2" stroke-linecap="butt"/>
<text transform="translate(117.6 542.6)" font-size="11.2" font-weight="bold" text-anchor="middle" fill="#222" stroke="#222" stroke-width="0.22">3h</text>
<line x1="163.8" y1="525.4" x2="163.8" y2="529.2" stroke="#1a1a1a" stroke-width="2" stroke-linecap="butt"/>
<text transform="translate(163.8 542.6)" font-size="11.2" font-weight="bold" text-anchor="middle" fill="#222" stroke="#222" stroke-width="0.22">9h</text>
<line x1="210.1" y1="525.4" x2="210.1" y2="529.2" stroke="#1a1a1a" stroke-width="2" stroke-linecap="butt"/>
<text transform="translate(210.1 542.6)" font-size="11.2" font-weight="bold" text-anchor="middle" fill="#222" stroke="#222" stroke-width="0.22">12h</text>
<line x1="256.4" y1="525.4" x2="256.4" y2="529.2" stroke="#1a1a1a" stroke-width="2" stroke-linecap="butt"/>
<text transform="translate(256.4 542.6)" font-size="11.2" font-weight="bold" text-anchor="middle" fill="#222" stroke="#222" stroke-width="0.22">24h</text>
<path d="M151.2 404.6 L151.2 393.4 L176.7 393.4 L176.7 404.6" fill="none" stroke="#333" stroke-width="1.1"/>
<text transform="translate(163.4 394.13)" font-size="12" font-weight="bold" text-anchor="middle" fill="#2a2a2a">***</text>
<path d="M163.4 426.8 L163.4 415.5 L176.7 415.5 L176.7 426.8" fill="none" stroke="#333" stroke-width="1.1"/>
<text transform="translate(169.2 417.13)" font-size="12" font-weight="bold" text-anchor="middle" fill="#2a2a2a">*</text>
<path d="M197.5 404.6 L197.5 393.4 L223.4 393.4 L223.4 404.6" fill="none" stroke="#333" stroke-width="1.1"/>
<text transform="translate(210.4 394.13)" font-size="12" font-weight="bold" text-anchor="middle" fill="#2a2a2a">***</text>
<path d="M209.4 426.8 L209.4 415.5 L223.4 415.5 L223.4 426.8" fill="none" stroke="#333" stroke-width="1.1"/>
<text transform="translate(216.2 417.13)" font-size="12" font-weight="bold" text-anchor="middle" fill="#2a2a2a">*</text>
<rect x="314.3" y="375" width="19" height="10.9" fill="#2a2a2a"/>
<text transform="translate(342 384.9)" font-size="12.2" text-anchor="start" fill="#222" stroke="#222" stroke-width="0.12">Control</text>
<rect x="314.3" y="397.1" width="19" height="10.9" fill="#a6a6a6"/>
<text transform="translate(342 407)" font-size="12.2" text-anchor="start" fill="#222" stroke="#222" stroke-width="0.12">siNeg</text>
<rect x="314.3" y="419.2" width="19" height="10.9" fill="#878787"/>
<text transform="translate(342 429.1)" font-size="12.2" text-anchor="start" fill="#222" stroke="#222" stroke-width="0.12">siIMP3</text>
<line x1="450.3" y1="366" x2="450.3" y2="522.4" stroke="#1a1a1a" stroke-width="1.5" stroke-linecap="butt"/>
<line x1="446.3" y1="521.4" x2="684" y2="521.4" stroke="#1a1a1a" stroke-width="1.5" stroke-linecap="butt"/>
<line x1="445.8" y1="521.4" x2="450.3" y2="521.4" stroke="#1a1a1a" stroke-width="1.5" stroke-linecap="butt"/>
<text transform="translate(443.8 525.3)" font-size="11.3" font-weight="bold" text-anchor="end" fill="#222" stroke="#222" stroke-width="0.22">0</text>
<line x1="445.8" y1="469.7" x2="450.3" y2="469.7" stroke="#1a1a1a" stroke-width="1.5" stroke-linecap="butt"/>
<text transform="translate(443.8 473.6)" font-size="11.3" font-weight="bold" text-anchor="end" fill="#222" stroke="#222" stroke-width="0.22">50</text>
<line x1="445.8" y1="418" x2="450.3" y2="418" stroke="#1a1a1a" stroke-width="1.5" stroke-linecap="butt"/>
<text transform="translate(443.8 421.9)" font-size="11.3" font-weight="bold" text-anchor="end" fill="#222" stroke="#222" stroke-width="0.22">100</text>
<line x1="445.8" y1="366.3" x2="450.3" y2="366.3" stroke="#1a1a1a" stroke-width="1.5" stroke-linecap="butt"/>
<text transform="translate(443.8 370.2)" font-size="11.3" font-weight="bold" text-anchor="end" fill="#222" stroke="#222" stroke-width="0.22">150</text>
<text transform="translate(415.3 444) rotate(-90) scale(0.9 1)" font-size="14" font-weight="bold" text-anchor="middle" fill="#1a1a1a" stroke="#1a1a1a" stroke-width="0.2">% Wound Area</text>
<text transform="translate(566.7 346.7)" font-size="14.8" font-weight="bold" text-anchor="middle" fill="#1a1a1a" stroke="#1a1a1a" stroke-width="0.2">hCPC3</text>
<rect x="454.9" y="418.3" width="8.2" height="103.1" fill="#2a2a2a"/>
<rect x="467.7" y="418.3" width="8.2" height="103.1" fill="#868686"/>
<rect x="480.6" y="418.3" width="8.2" height="103.1" fill="#b5b5b5"/>
<rect x="502.1" y="429.3" width="8.2" height="92.1" fill="#2a2a2a"/>
<line x1="506.2" y1="425.3" x2="506.2" y2="429.3" stroke="#333" stroke-width="1" stroke-linecap="butt"/>
<line x1="503.6" y1="425.3" x2="508.8" y2="425.3" stroke="#333" stroke-width="1" stroke-linecap="butt"/>
<rect x="514.9" y="427" width="8.2" height="94.4" fill="#868686"/>
<line x1="519" y1="423" x2="519" y2="431" stroke="#333" stroke-width="1" stroke-linecap="butt"/>
<line x1="516.4" y1="423" x2="521.6" y2="423" stroke="#333" stroke-width="1" stroke-linecap="butt"/>
<line x1="516.4" y1="431" x2="521.6" y2="431" stroke="#333" stroke-width="1" stroke-linecap="butt"/>
<rect x="527.8" y="425.3" width="8.4" height="96.1" fill="#b5b5b5"/>
<line x1="532" y1="419" x2="532" y2="431.6" stroke="#333" stroke-width="1" stroke-linecap="butt"/>
<line x1="529.4" y1="419" x2="534.6" y2="419" stroke="#333" stroke-width="1" stroke-linecap="butt"/>
<line x1="529.4" y1="431.6" x2="534.6" y2="431.6" stroke="#333" stroke-width="1" stroke-linecap="butt"/>
<rect x="548.9" y="473.3" width="8.9" height="48.1" fill="#2a2a2a"/>
<line x1="553.35" y1="453.1" x2="553.35" y2="473.3" stroke="#333" stroke-width="1" stroke-linecap="butt"/>
<line x1="550.75" y1="453.1" x2="555.95" y2="453.1" stroke="#333" stroke-width="1" stroke-linecap="butt"/>
<rect x="562" y="457.8" width="8.9" height="63.6" fill="#868686"/>
<line x1="566.45" y1="446.4" x2="566.45" y2="469.4" stroke="#333" stroke-width="1" stroke-linecap="butt"/>
<line x1="563.85" y1="446.4" x2="569.05" y2="446.4" stroke="#333" stroke-width="1" stroke-linecap="butt"/>
<line x1="563.85" y1="469.4" x2="569.05" y2="469.4" stroke="#333" stroke-width="1" stroke-linecap="butt"/>
<rect x="575.1" y="452.1" width="8.5" height="69.3" fill="#b5b5b5"/>
<line x1="579.35" y1="445.7" x2="579.35" y2="458.4" stroke="#333" stroke-width="1" stroke-linecap="butt"/>
<line x1="576.75" y1="445.7" x2="581.95" y2="445.7" stroke="#333" stroke-width="1" stroke-linecap="butt"/>
<line x1="576.75" y1="458.4" x2="581.95" y2="458.4" stroke="#333" stroke-width="1" stroke-linecap="butt"/>
<rect x="596.3" y="495.4" width="8.2" height="26" fill="#2a2a2a"/>
<line x1="600.4" y1="469.7" x2="600.4" y2="495.4" stroke="#333" stroke-width="1" stroke-linecap="butt"/>
<line x1="597.8" y1="469.7" x2="603" y2="469.7" stroke="#333" stroke-width="1" stroke-linecap="butt"/>
<rect x="609" y="474.3" width="8.9" height="47.1" fill="#868686"/>
<line x1="613.45" y1="453.4" x2="613.45" y2="494.7" stroke="#333" stroke-width="1" stroke-linecap="butt"/>
<line x1="610.85" y1="453.4" x2="616.05" y2="453.4" stroke="#333" stroke-width="1" stroke-linecap="butt"/>
<line x1="610.85" y1="494.7" x2="616.05" y2="494.7" stroke="#333" stroke-width="1" stroke-linecap="butt"/>
<rect x="622.1" y="472.2" width="8.9" height="49.2" fill="#b5b5b5"/>
<line x1="626.55" y1="450.4" x2="626.55" y2="493.6" stroke="#333" stroke-width="1" stroke-linecap="butt"/>
<line x1="623.95" y1="450.4" x2="629.15" y2="450.4" stroke="#333" stroke-width="1" stroke-linecap="butt"/>
<line x1="623.95" y1="493.6" x2="629.15" y2="493.6" stroke="#333" stroke-width="1" stroke-linecap="butt"/>
<line x1="471.5" y1="521.4" x2="471.5" y2="527.8" stroke="#1a1a1a" stroke-width="1.5" stroke-linecap="butt"/>
<text transform="translate(471.5 539.7)" font-size="11.2" font-weight="bold" text-anchor="middle" fill="#222" stroke="#222" stroke-width="0.22">t=0h</text>
<line x1="518.7" y1="521.4" x2="518.7" y2="527.8" stroke="#1a1a1a" stroke-width="1.5" stroke-linecap="butt"/>
<text transform="translate(518.7 539.7)" font-size="11.2" font-weight="bold" text-anchor="middle" fill="#222" stroke="#222" stroke-width="0.22">3h</text>
<line x1="565.9" y1="521.4" x2="565.9" y2="527.8" stroke="#1a1a1a" stroke-width="1.5" stroke-linecap="butt"/>
<text transform="translate(565.9 539.7)" font-size="11.2" font-weight="bold" text-anchor="middle" fill="#222" stroke="#222" stroke-width="0.22">9h</text>
<line x1="613.1" y1="521.4" x2="613.1" y2="527.8" stroke="#1a1a1a" stroke-width="1.5" stroke-linecap="butt"/>
<text transform="translate(613.1 539.7)" font-size="11.2" font-weight="bold" text-anchor="middle" fill="#222" stroke="#222" stroke-width="0.22">12h</text>
<line x1="660.2" y1="521.4" x2="660.2" y2="527.8" stroke="#1a1a1a" stroke-width="1.5" stroke-linecap="butt"/>
<text transform="translate(660.2 539.7)" font-size="11.2" font-weight="bold" text-anchor="middle" fill="#222" stroke="#222" stroke-width="0.22">24h</text>
<path d="M553.1 398.7 L553.1 387.1 L579.4 387.1 L579.4 398.7" fill="none" stroke="#333" stroke-width="1.1"/>
<text transform="translate(565.4 387.23)" font-size="12" font-weight="bold" text-anchor="middle" fill="#2a2a2a">**</text>
<path d="M552.7 421 L552.7 409.7 L566.5 409.7 L566.5 421" fill="none" stroke="#333" stroke-width="1.1"/>
<text transform="translate(559.5 411.03)" font-size="12" font-weight="bold" text-anchor="middle" fill="#2a2a2a">*</text>
<path d="M600.3 398.7 L600.3 387.1 L626.4 387.1 L626.4 398.7" fill="none" stroke="#333" stroke-width="1.1"/>
<text transform="translate(613.2 387.23)" font-size="12" font-weight="bold" text-anchor="middle" fill="#2a2a2a">*</text>
<line x1="60.5" y1="618.6" x2="60.5" y2="818.7" stroke="#1a1a1a" stroke-width="2.4" stroke-linecap="butt"/>
<line x1="59.3" y1="817.5" x2="679.3" y2="817.5" stroke="#1a1a1a" stroke-width="2.6" stroke-linecap="butt"/>
<line x1="52.7" y1="817.5" x2="60.5" y2="817.5" stroke="#1a1a1a" stroke-width="2.3" stroke-linecap="butt"/>
<text transform="translate(51.3 822.6)" font-size="14" font-weight="bold" text-anchor="end" fill="#222" stroke="#222" stroke-width="0.25">0.0</text>
<line x1="52.7" y1="767.95" x2="60.5" y2="767.95" stroke="#1a1a1a" stroke-width="2.3" stroke-linecap="butt"/>
<text transform="translate(51.3 773.05)" font-size="14" font-weight="bold" text-anchor="end" fill="#222" stroke="#222" stroke-width="0.25">0.5</text>
<line x1="52.7" y1="718.4" x2="60.5" y2="718.4" stroke="#1a1a1a" stroke-width="2.3" stroke-linecap="butt"/>
<text transform="translate(51.3 723.5)" font-size="14" font-weight="bold" text-anchor="end" fill="#222" stroke="#222" stroke-width="0.25">1.0</text>
<line x1="52.7" y1="668.85" x2="60.5" y2="668.85" stroke="#1a1a1a" stroke-width="2.3" stroke-linecap="butt"/>
<text transform="translate(51.3 673.95)" font-size="14" font-weight="bold" text-anchor="end" fill="#222" stroke="#222" stroke-width="0.25">1.5</text>
<line x1="52.7" y1="619.3" x2="60.5" y2="619.3" stroke="#1a1a1a" stroke-width="2.3" stroke-linecap="butt"/>
<text transform="translate(51.3 624.4)" font-size="14" font-weight="bold" text-anchor="end" fill="#222" stroke="#222" stroke-width="0.25">2.0</text>
<text transform="translate(16.9 714.5) rotate(-90) scale(0.92 1)" font-size="17" font-weight="bold" text-anchor="middle" fill="#1a1a1a" stroke="#1a1a1a" stroke-width="0.25">Relative expression to GusB</text>
<text transform="translate(362.2 594.8) scale(1 1.12)" font-size="14" font-weight="bold" text-anchor="middle" fill="#1a1a1a">hCPC1</text>
<rect x="64.3" y="717.7" width="9" height="99.8" fill="#2a2a2a"/>
<rect x="73.3" y="738.7" width="10.1" height="78.8" fill="#878787"/>
<rect x="84.05" y="732.65" width="8.7" height="84.85" fill="#cfcfcf" stroke="#b6b6b6" stroke-width="1.3"/>
<line x1="78.35" y1="734.6" x2="78.35" y2="738.7" stroke="#1f1f1f" stroke-width="1.7" stroke-linecap="butt"/>
<line x1="75.95" y1="734.6" x2="80.75" y2="734.6" stroke="#1f1f1f" stroke-width="1.7" stroke-linecap="butt"/>
<line x1="88.4" y1="716.8" x2="88.4" y2="732" stroke="#1f1f1f" stroke-width="1.7" stroke-linecap="butt"/>
<line x1="86" y1="716.8" x2="90.8" y2="716.8" stroke="#1f1f1f" stroke-width="1.7" stroke-linecap="butt"/>
<line x1="78.8" y1="817.5" x2="78.8" y2="824.6" stroke="#1a1a1a" stroke-width="2.8" stroke-linecap="butt"/>
<text transform="translate(84.8 825.4) rotate(-90)" font-size="19.2" font-weight="bold" text-anchor="end" fill="#222" stroke="#222" stroke-width="0.3">MYC</text>
<rect x="100.67" y="717.7" width="9" height="99.8" fill="#2a2a2a"/>
<rect x="109.67" y="722.3" width="10.1" height="95.2" fill="#878787"/>
<rect x="120.42" y="742.35" width="8.7" height="75.15" fill="#cfcfcf" stroke="#b6b6b6" stroke-width="1.3"/>
<line x1="114.72" y1="717.6" x2="114.72" y2="722.3" stroke="#1f1f1f" stroke-width="1.7" stroke-linecap="butt"/>
<line x1="112.32" y1="717.6" x2="117.12" y2="717.6" stroke="#1f1f1f" stroke-width="1.7" stroke-linecap="butt"/>
<line x1="124.78" y1="721.3" x2="124.78" y2="741.7" stroke="#1f1f1f" stroke-width="1.7" stroke-linecap="butt"/>
<line x1="122.38" y1="721.3" x2="127.18" y2="721.3" stroke="#1f1f1f" stroke-width="1.7" stroke-linecap="butt"/>
<line x1="115.17" y1="817.5" x2="115.17" y2="824.6" stroke="#1a1a1a" stroke-width="2.8" stroke-linecap="butt"/>
<text transform="translate(121.17 825.4) rotate(-90)" font-size="19.2" font-weight="bold" text-anchor="end" fill="#222" stroke="#222" stroke-width="0.3">CDK6</text>
<rect x="137.05" y="717.7" width="9" height="99.8" fill="#2a2a2a"/>
<rect x="146.05" y="728.8" width="10.1" height="88.7" fill="#878787"/>
<rect x="156.8" y="765.35" width="8.7" height="52.15" fill="#cfcfcf" stroke="#b6b6b6" stroke-width="1.3"/>
<line x1="151.1" y1="718.6" x2="151.1" y2="728.8" stroke="#1f1f1f" stroke-width="1.7" stroke-linecap="butt"/>
<line x1="148.7" y1="718.6" x2="153.5" y2="718.6" stroke="#1f1f1f" stroke-width="1.7" stroke-linecap="butt"/>
<line x1="161.15" y1="744" x2="161.15" y2="764.7" stroke="#1f1f1f" stroke-width="1.7" stroke-linecap="butt"/>
<line x1="158.75" y1="744" x2="163.55" y2="744" stroke="#1f1f1f" stroke-width="1.7" stroke-linecap="butt"/>
<line x1="151.55" y1="817.5" x2="151.55" y2="824.6" stroke="#1a1a1a" stroke-width="2.8" stroke-linecap="butt"/>
<text transform="translate(157.55 825.4) rotate(-90)" font-size="19.2" font-weight="bold" text-anchor="end" fill="#222" stroke="#222" stroke-width="0.3">HMGA2</text>
<rect x="173.43" y="717.7" width="9" height="99.8" fill="#2a2a2a"/>
<rect x="182.43" y="733.2" width="10.1" height="84.3" fill="#878787"/>
<rect x="193.18" y="767.45" width="8.7" height="50.05" fill="#cfcfcf" stroke="#b6b6b6" stroke-width="1.3"/>
<line x1="187.48" y1="724.5" x2="187.48" y2="733.2" stroke="#1f1f1f" stroke-width="1.7" stroke-linecap="butt"/>
<line x1="185.08" y1="724.5" x2="189.88" y2="724.5" stroke="#1f1f1f" stroke-width="1.7" stroke-linecap="butt"/>
<line x1="197.53" y1="759.5" x2="197.53" y2="766.8" stroke="#1f1f1f" stroke-width="1.7" stroke-linecap="butt"/>
<line x1="195.12" y1="759.5" x2="199.93" y2="759.5" stroke="#1f1f1f" stroke-width="1.7" stroke-linecap="butt"/>
<line x1="187.93" y1="817.5" x2="187.93" y2="824.6" stroke="#1a1a1a" stroke-width="2.8" stroke-linecap="butt"/>
<text transform="translate(193.93 825.4) rotate(-90)" font-size="19.2" font-weight="bold" text-anchor="end" fill="#222" stroke="#222" stroke-width="0.3">PTPRF</text>
<rect x="209.8" y="717.7" width="9" height="99.8" fill="#2a2a2a"/>
<rect x="218.8" y="731.8" width="10.1" height="85.7" fill="#878787"/>
<rect x="229.55" y="746.45" width="8.7" height="71.05" fill="#cfcfcf" stroke="#b6b6b6" stroke-width="1.3"/>
<line x1="223.85" y1="718.6" x2="223.85" y2="731.8" stroke="#1f1f1f" stroke-width="1.7" stroke-linecap="butt"/>
<line x1="221.45" y1="718.6" x2="226.25" y2="718.6" stroke="#1f1f1f" stroke-width="1.7" stroke-linecap="butt"/>
<line x1="233.9" y1="744.9" x2="233.9" y2="745.8" stroke="#1f1f1f" stroke-width="1.7" stroke-linecap="butt"/>
<line x1="231.5" y1="744.9" x2="236.3" y2="744.9" stroke="#1f1f1f" stroke-width="1.7" stroke-linecap="butt"/>
<line x1="224.3" y1="817.5" x2="224.3" y2="824.6" stroke="#1a1a1a" stroke-width="2.8" stroke-linecap="butt"/>
<text transform="translate(230.3 825.4) rotate(-90)" font-size="19.2" font-weight="bold" text-anchor="end" fill="#222" stroke="#222" stroke-width="0.3">CD9</text>
<rect x="246.18" y="717.7" width="9" height="99.8" fill="#2a2a2a"/>
<rect x="255.18" y="738.2" width="10.1" height="79.3" fill="#878787"/>
<rect x="265.93" y="708.15" width="8.7" height="109.35" fill="#cfcfcf" stroke="#b6b6b6" stroke-width="1.3"/>
<line x1="260.23" y1="725.3" x2="260.23" y2="738.2" stroke="#1f1f1f" stroke-width="1.7" stroke-linecap="butt"/>
<line x1="257.83" y1="725.3" x2="262.62" y2="725.3" stroke="#1f1f1f" stroke-width="1.7" stroke-linecap="butt"/>
<line x1="270.28" y1="668.1" x2="270.28" y2="707.5" stroke="#1f1f1f" stroke-width="1.7" stroke-linecap="butt"/>
<line x1="267.88" y1="668.1" x2="272.68" y2="668.1" stroke="#1f1f1f" stroke-width="1.7" stroke-linecap="butt"/>
<line x1="260.68" y1="817.5" x2="260.68" y2="824.6" stroke="#1a1a1a" stroke-width="2.8" stroke-linecap="butt"/>
<text transform="translate(266.68 825.4) rotate(-90)" font-size="19.2" font-weight="bold" text-anchor="end" fill="#222" stroke="#222" stroke-width="0.3">NEMO</text>
<rect x="282.55" y="717.7" width="9" height="99.8" fill="#2a2a2a"/>
<rect x="291.55" y="750.7" width="10.1" height="66.8" fill="#878787"/>
<rect x="302.3" y="774.75" width="8.7" height="42.75" fill="#cfcfcf" stroke="#b6b6b6" stroke-width="1.3"/>
<line x1="296.6" y1="737.6" x2="296.6" y2="750.7" stroke="#1f1f1f" stroke-width="1.7" stroke-linecap="butt"/>
<line x1="294.2" y1="737.6" x2="299" y2="737.6" stroke="#1f1f1f" stroke-width="1.7" stroke-linecap="butt"/>
<line x1="306.65" y1="768.2" x2="306.65" y2="774.1" stroke="#1f1f1f" stroke-width="1.7" stroke-linecap="butt"/>
<line x1="304.25" y1="768.2" x2="309.05" y2="768.2" stroke="#1f1f1f" stroke-width="1.7" stroke-linecap="butt"/>
<line x1="297.05" y1="817.5" x2="297.05" y2="824.6" stroke="#1a1a1a" stroke-width="2.8" stroke-linecap="butt"/>
<text transform="translate(303.05 825.4) rotate(-90)" font-size="19.2" font-weight="bold" text-anchor="end" fill="#222" stroke="#222" stroke-width="0.3">ICAM3</text>
<rect x="318.93" y="717.7" width="9" height="99.8" fill="#2a2a2a"/>
<rect x="327.93" y="736.5" width="10.1" height="81" fill="#878787"/>
<rect x="338.68" y="737.15" width="8.7" height="80.35" fill="#cfcfcf" stroke="#b6b6b6" stroke-width="1.3"/>
<line x1="332.98" y1="727.6" x2="332.98" y2="736.5" stroke="#1f1f1f" stroke-width="1.7" stroke-linecap="butt"/>
<line x1="330.58" y1="727.6" x2="335.38" y2="727.6" stroke="#1f1f1f" stroke-width="1.7" stroke-linecap="butt"/>
<line x1="343.03" y1="720.7" x2="343.03" y2="736.5" stroke="#1f1f1f" stroke-width="1.7" stroke-linecap="butt"/>
<line x1="340.63" y1="720.7" x2="345.43" y2="720.7" stroke="#1f1f1f" stroke-width="1.7" stroke-linecap="butt"/>
<line x1="333.43" y1="817.5" x2="333.43" y2="824.6" stroke="#1a1a1a" stroke-width="2.8" stroke-linecap="butt"/>
<text transform="translate(339.43 825.4) rotate(-90)" font-size="19.2" font-weight="bold" text-anchor="end" fill="#222" stroke="#222" stroke-width="0.3">GATA4</text>
<rect x="355.3" y="717.7" width="9" height="99.8" fill="#2a2a2a"/>
<rect x="364.3" y="729.6" width="10.1" height="87.9" fill="#878787"/>
<rect x="375.05" y="756.05" width="8.7" height="61.45" fill="#cfcfcf" stroke="#b6b6b6" stroke-width="1.3"/>
<line x1="369.35" y1="722.1" x2="369.35" y2="729.6" stroke="#1f1f1f" stroke-width="1.7" stroke-linecap="butt"/>
<line x1="366.95" y1="722.1" x2="371.75" y2="722.1" stroke="#1f1f1f" stroke-width="1.7" stroke-linecap="butt"/>
<line x1="379.4" y1="744.8" x2="379.4" y2="755.4" stroke="#1f1f1f" stroke-width="1.7" stroke-linecap="butt"/>
<line x1="377" y1="744.8" x2="381.8" y2="744.8" stroke="#1f1f1f" stroke-width="1.7" stroke-linecap="butt"/>
<line x1="369.8" y1="817.5" x2="369.8" y2="824.6" stroke="#1a1a1a" stroke-width="2.8" stroke-linecap="butt"/>
<text transform="translate(375.8 825.4) rotate(-90)" font-size="19.2" font-weight="bold" text-anchor="end" fill="#222" stroke="#222" stroke-width="0.3">SOX17</text>
<rect x="391.68" y="717.7" width="9" height="99.8" fill="#2a2a2a"/>
<rect x="400.68" y="728.2" width="10.1" height="89.3" fill="#878787"/>
<rect x="411.43" y="701.05" width="8.7" height="116.45" fill="#cfcfcf" stroke="#b6b6b6" stroke-width="1.3"/>
<line x1="405.73" y1="717.6" x2="405.73" y2="728.2" stroke="#1f1f1f" stroke-width="1.7" stroke-linecap="butt"/>
<line x1="403.33" y1="717.6" x2="408.12" y2="717.6" stroke="#1f1f1f" stroke-width="1.7" stroke-linecap="butt"/>
<line x1="415.78" y1="629.7" x2="415.78" y2="700.4" stroke="#1f1f1f" stroke-width="1.7" stroke-linecap="butt"/>
<line x1="413.38" y1="629.7" x2="418.18" y2="629.7" stroke="#1f1f1f" stroke-width="1.7" stroke-linecap="butt"/>
<line x1="406.18" y1="817.5" x2="406.18" y2="824.6" stroke="#1a1a1a" stroke-width="2.8" stroke-linecap="butt"/>
<text transform="translate(412.18 825.4) rotate(-90)" font-size="19.2" font-weight="bold" text-anchor="end" fill="#222" stroke="#222" stroke-width="0.3">WT1</text>
<rect x="428.05" y="717.7" width="9" height="99.8" fill="#2a2a2a"/>
<rect x="437.05" y="740.7" width="10.1" height="76.8" fill="#878787"/>
<rect x="447.8" y="719.65" width="8.7" height="97.85" fill="#cfcfcf" stroke="#b6b6b6" stroke-width="1.3"/>
<line x1="442.1" y1="736.5" x2="442.1" y2="740.7" stroke="#1f1f1f" stroke-width="1.7" stroke-linecap="butt"/>
<line x1="439.7" y1="736.5" x2="444.5" y2="736.5" stroke="#1f1f1f" stroke-width="1.7" stroke-linecap="butt"/>
<line x1="452.15" y1="697.1" x2="452.15" y2="719" stroke="#1f1f1f" stroke-width="1.7" stroke-linecap="butt"/>
<line x1="449.75" y1="697.1" x2="454.55" y2="697.1" stroke="#1f1f1f" stroke-width="1.7" stroke-linecap="butt"/>
<line x1="442.55" y1="817.5" x2="442.55" y2="824.6" stroke="#1a1a1a" stroke-width="2.8" stroke-linecap="butt"/>
<text transform="translate(448.55 825.4) rotate(-90)" font-size="19.2" font-weight="bold" text-anchor="end" fill="#222" stroke="#222" stroke-width="0.3">GATA2</text>
<rect x="464.43" y="717.7" width="9" height="99.8" fill="#2a2a2a"/>
<rect x="473.43" y="745.4" width="10.1" height="72.1" fill="#878787"/>
<rect x="484.18" y="721.05" width="8.7" height="96.45" fill="#cfcfcf" stroke="#b6b6b6" stroke-width="1.3"/>
<line x1="478.48" y1="736.5" x2="478.48" y2="745.4" stroke="#1f1f1f" stroke-width="1.7" stroke-linecap="butt"/>
<line x1="476.08" y1="736.5" x2="480.88" y2="736.5" stroke="#1f1f1f" stroke-width="1.7" stroke-linecap="butt"/>
<line x1="488.53" y1="685.2" x2="488.53" y2="720.4" stroke="#1f1f1f" stroke-width="1.7" stroke-linecap="butt"/>
<line x1="486.13" y1="685.2" x2="490.93" y2="685.2" stroke="#1f1f1f" stroke-width="1.7" stroke-linecap="butt"/>
<line x1="478.93" y1="817.5" x2="478.93" y2="824.6" stroke="#1a1a1a" stroke-width="2.8" stroke-linecap="butt"/>
<text transform="translate(484.93 825.4) rotate(-90)" font-size="19.2" font-weight="bold" text-anchor="end" fill="#222" stroke="#222" stroke-width="0.3">TBX3</text>
<rect x="500.8" y="717.7" width="9" height="99.8" fill="#2a2a2a"/>
<rect x="509.8" y="736.7" width="10.1" height="80.8" fill="#878787"/>
<rect x="520.55" y="713.15" width="8.7" height="104.35" fill="#cfcfcf" stroke="#b6b6b6" stroke-width="1.3"/>
<line x1="514.85" y1="725.3" x2="514.85" y2="736.7" stroke="#1f1f1f" stroke-width="1.7" stroke-linecap="butt"/>
<line x1="512.45" y1="725.3" x2="517.25" y2="725.3" stroke="#1f1f1f" stroke-width="1.7" stroke-linecap="butt"/>
<line x1="524.9" y1="674.1" x2="524.9" y2="712.5" stroke="#1f1f1f" stroke-width="1.7" stroke-linecap="butt"/>
<line x1="522.5" y1="674.1" x2="527.3" y2="674.1" stroke="#1f1f1f" stroke-width="1.7" stroke-linecap="butt"/>
<line x1="515.3" y1="817.5" x2="515.3" y2="824.6" stroke="#1a1a1a" stroke-width="2.8" stroke-linecap="butt"/>
<text transform="translate(521.3 825.4) rotate(-90)" font-size="19.2" font-weight="bold" text-anchor="end" fill="#222" stroke="#222" stroke-width="0.3">MEF2</text>
<rect x="537.17" y="717.7" width="9" height="99.8" fill="#2a2a2a"/>
<rect x="546.17" y="743" width="10.1" height="74.5" fill="#878787"/>
<rect x="556.92" y="719.65" width="8.7" height="97.85" fill="#cfcfcf" stroke="#b6b6b6" stroke-width="1.3"/>
<line x1="551.22" y1="721.6" x2="551.22" y2="743" stroke="#1f1f1f" stroke-width="1.7" stroke-linecap="butt"/>
<line x1="548.82" y1="721.6" x2="553.62" y2="721.6" stroke="#1f1f1f" stroke-width="1.7" stroke-linecap="butt"/>
<line x1="561.27" y1="686.6" x2="561.27" y2="719" stroke="#1f1f1f" stroke-width="1.7" stroke-linecap="butt"/>
<line x1="558.88" y1="686.6" x2="563.67" y2="686.6" stroke="#1f1f1f" stroke-width="1.7" stroke-linecap="butt"/>
<line x1="551.67" y1="817.5" x2="551.67" y2="824.6" stroke="#1a1a1a" stroke-width="2.8" stroke-linecap="butt"/>
<text transform="translate(557.67 825.4) rotate(-90)" font-size="19.2" font-weight="bold" text-anchor="end" fill="#222" stroke="#222" stroke-width="0.3">OCT4</text>
<rect x="573.55" y="717.7" width="9" height="99.8" fill="#2a2a2a"/>
<rect x="582.55" y="741.5" width="10.1" height="76" fill="#878787"/>
<rect x="593.3" y="726.85" width="8.7" height="90.65" fill="#cfcfcf" stroke="#b6b6b6" stroke-width="1.3"/>
<line x1="587.6" y1="728.2" x2="587.6" y2="741.5" stroke="#1f1f1f" stroke-width="1.7" stroke-linecap="butt"/>
<line x1="585.2" y1="728.2" x2="590" y2="728.2" stroke="#1f1f1f" stroke-width="1.7" stroke-linecap="butt"/>
<line x1="597.65" y1="702" x2="597.65" y2="726.2" stroke="#1f1f1f" stroke-width="1.7" stroke-linecap="butt"/>
<line x1="595.25" y1="702" x2="600.05" y2="702" stroke="#1f1f1f" stroke-width="1.7" stroke-linecap="butt"/>
<line x1="588.05" y1="817.5" x2="588.05" y2="824.6" stroke="#1a1a1a" stroke-width="2.8" stroke-linecap="butt"/>
<text transform="translate(594.05 825.4) rotate(-90)" font-size="19.2" font-weight="bold" text-anchor="end" fill="#222" stroke="#222" stroke-width="0.3">DIDO3</text>
<rect x="609.92" y="717.7" width="9" height="99.8" fill="#2a2a2a"/>
<rect x="618.92" y="737.3" width="10.1" height="80.2" fill="#878787"/>
<rect x="629.67" y="735.95" width="8.7" height="81.55" fill="#cfcfcf" stroke="#b6b6b6" stroke-width="1.3"/>
<line x1="623.97" y1="732.4" x2="623.97" y2="737.3" stroke="#1f1f1f" stroke-width="1.7" stroke-linecap="butt"/>
<line x1="621.57" y1="732.4" x2="626.37" y2="732.4" stroke="#1f1f1f" stroke-width="1.7" stroke-linecap="butt"/>
<line x1="634.02" y1="709.7" x2="634.02" y2="735.3" stroke="#1f1f1f" stroke-width="1.7" stroke-linecap="butt"/>
<line x1="631.62" y1="709.7" x2="636.42" y2="709.7" stroke="#1f1f1f" stroke-width="1.7" stroke-linecap="butt"/>
<line x1="624.42" y1="817.5" x2="624.42" y2="824.6" stroke="#1a1a1a" stroke-width="2.8" stroke-linecap="butt"/>
<text transform="translate(630.42 825.4) rotate(-90)" font-size="19.2" font-weight="bold" text-anchor="end" fill="#222" stroke="#222" stroke-width="0.3">MDB3</text>
<rect x="646.3" y="717.7" width="9" height="99.8" fill="#2a2a2a"/>
<rect x="655.3" y="735.3" width="10.1" height="82.2" fill="#878787"/>
<rect x="666.05" y="790.05" width="8.7" height="27.45" fill="#cfcfcf" stroke="#b6b6b6" stroke-width="1.3"/>
<line x1="660.35" y1="722.5" x2="660.35" y2="735.3" stroke="#1f1f1f" stroke-width="1.7" stroke-linecap="butt"/>
<line x1="657.95" y1="722.5" x2="662.75" y2="722.5" stroke="#1f1f1f" stroke-width="1.7" stroke-linecap="butt"/>
<line x1="670.4" y1="780.3" x2="670.4" y2="789.4" stroke="#1f1f1f" stroke-width="1.7" stroke-linecap="butt"/>
<line x1="668" y1="780.3" x2="672.8" y2="780.3" stroke="#1f1f1f" stroke-width="1.7" stroke-linecap="butt"/>
<line x1="660.8" y1="817.5" x2="660.8" y2="824.6" stroke="#1a1a1a" stroke-width="2.8" stroke-linecap="butt"/>
<text transform="translate(666.8 825.4) rotate(-90)" font-size="19.2" font-weight="bold" text-anchor="end" fill="#222" stroke="#222" stroke-width="0.3">IGF2BP3</text>
<line x1="59.3" y1="817.5" x2="679.3" y2="817.5" stroke="#1a1a1a" stroke-width="2.6" stroke-linecap="butt"/>
<line x1="60.5" y1="618.6" x2="60.5" y2="818.7" stroke="#1a1a1a" stroke-width="2.4" stroke-linecap="butt"/>
<path d="M140.8 675.7 L140.8 669.3 L160.5 669.3 L160.5 675.7" fill="none" stroke="#222" stroke-width="1.3"/>
<text transform="translate(151.3 669.58)" font-size="10.5" font-weight="bold" text-anchor="middle" fill="#222">**</text>
<path d="M151 697.6 L151 691.5 L160.5 691.5 L160.5 697.6" fill="none" stroke="#222" stroke-width="1.3"/>
<text transform="translate(156.1 692.58)" font-size="10.5" font-weight="bold" text-anchor="middle" fill="#222">*</text>
<path d="M175.8 703.4 L175.8 696.7 L195.7 696.7 L195.7 703.4" fill="none" stroke="#222" stroke-width="1.3"/>
<text transform="translate(186.7 697.38)" font-size="10.5" font-weight="bold" text-anchor="middle" fill="#222">**</text>
<path d="M286.8 700.2 L286.8 693.8 L306 693.8 L306 700.2" fill="none" stroke="#222" stroke-width="1.3"/>
<text transform="translate(296.4 694.08)" font-size="10.5" font-weight="bold" text-anchor="middle" fill="#222">**</text>
<path d="M359.4 699.6 L359.4 692.7 L378.8 692.7 L378.8 699.6" fill="none" stroke="#222" stroke-width="1.3"/>
<text transform="translate(368.8 692.68)" font-size="10.5" font-weight="bold" text-anchor="middle" fill="#222">*</text>
<path d="M651.4 695.4 L651.4 688.3 L671.3 688.3 L671.3 695.4" fill="none" stroke="#222" stroke-width="1.3"/>
<text transform="translate(660.8 685.88)" font-size="10.5" font-weight="bold" text-anchor="middle" fill="#222">**</text>
<path d="M661.4 713.9 L661.4 707.4 L671.3 707.4 L671.3 713.9" fill="none" stroke="#222" stroke-width="1.3"/>
<text transform="translate(666.2 707.28)" font-size="10.5" font-weight="bold" text-anchor="middle" fill="#222">*</text>
<line x1="62.3" y1="900.3" x2="234.5" y2="900.3" stroke="#1a1a1a" stroke-width="2.8" stroke-linecap="round"/>
<line x1="250.8" y1="900.3" x2="307.9" y2="900.3" stroke="#1a1a1a" stroke-width="2.8" stroke-linecap="round"/>
<line x1="320.7" y1="900.3" x2="527.6" y2="900.3" stroke="#1a1a1a" stroke-width="2.8" stroke-linecap="round"/>
<line x1="542.6" y1="900.3" x2="634.9" y2="900.3" stroke="#1a1a1a" stroke-width="2.8" stroke-linecap="round"/>
<text transform="translate(151.5 927.3)" font-size="15.6" font-weight="bold" text-anchor="middle" fill="#222" stroke="#222" stroke-width="0.35">Proliferation</text>
<text transform="translate(280.8 927.3)" font-size="15.6" font-weight="bold" text-anchor="middle" fill="#222" stroke="#222" stroke-width="0.35">Apop.</text>
<text transform="translate(425 927.3)" font-size="15.6" font-weight="bold" text-anchor="middle" fill="#222" stroke="#222" stroke-width="0.35">Trasncrip. Factors</text>
<text transform="translate(589.5 927.3)" font-size="15.6" font-weight="bold" text-anchor="middle" fill="#222" stroke="#222" stroke-width="0.35">Self Renew.</text>
<rect x="159.6" y="951.6" width="23.4" height="17" fill="#2a2a2a"/>
<rect x="329.3" y="951.6" width="23.4" height="17" fill="#8a8a8a"/>
<rect x="498.1" y="951.6" width="23.4" height="17" fill="#cacaca" stroke="#b0b0b0" stroke-width="1.2"/>
<text transform="translate(194.4 966.5)" font-size="18.2" font-weight="bold" text-anchor="start" fill="#222" stroke="#222" stroke-width="0.3">Control</text>
<text transform="translate(363.6 966.5)" font-size="18.2" font-weight="bold" text-anchor="start" fill="#222" stroke="#222" stroke-width="0.3">siNeg</text>
<text transform="translate(532.2 966.5)" font-size="18.2" font-weight="bold" text-anchor="start" fill="#222" stroke="#222" stroke-width="0.3">siIMP3</text>
</svg>
</body></html>
